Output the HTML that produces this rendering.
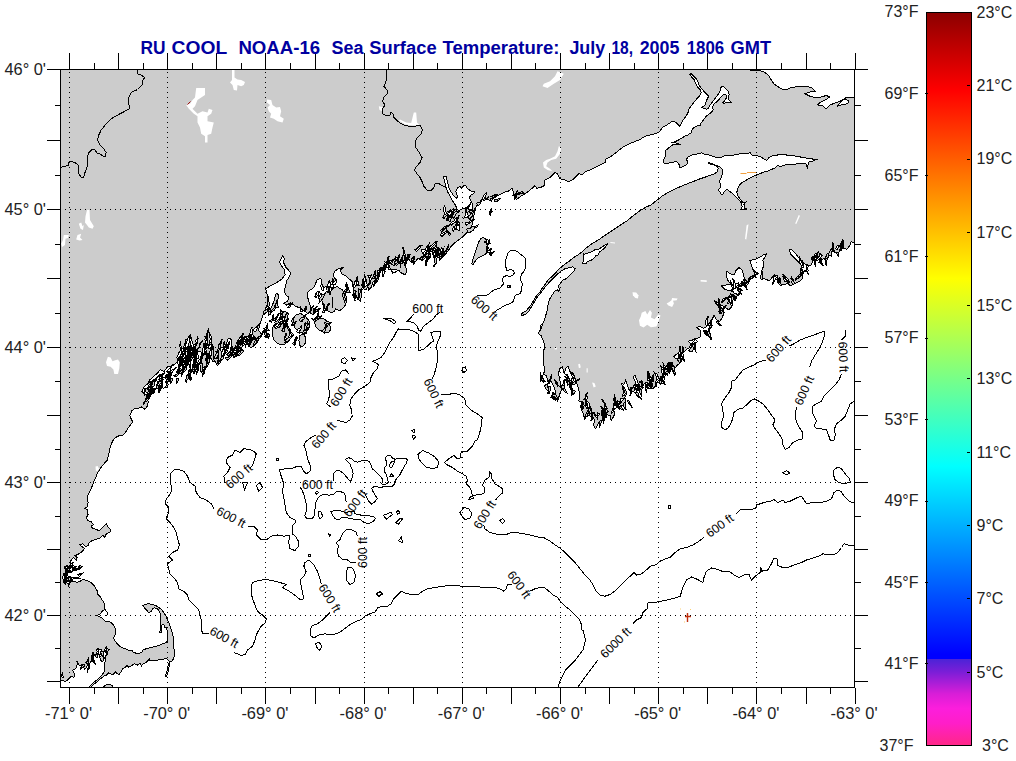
<!DOCTYPE html><html><head><meta charset="utf-8"><title>SST</title><style>
html,body{margin:0;padding:0;background:#fff;}body{width:1016px;height:761px;overflow:hidden;position:relative;font-family:"Liberation Sans",sans-serif;}
svg{position:absolute;left:0;top:0;}text{font-family:"Liberation Sans",sans-serif;}
.ax{font-size:16px;fill:#222;}.ax2{font-size:16.4px;fill:#222;}.cl{font-size:12.3px;fill:#000;}
.ttl{font-size:18px;font-weight:bold;fill:#0000a0;white-space:pre;}
</style></head><body>
<svg width="1016" height="761" viewBox="0 0 1016 761">
<defs><clipPath id="mc"><rect x="60" y="69" width="795" height="619"/></clipPath>
<linearGradient id="cb" x1="0" y1="0" x2="0" y2="1">
<stop offset="0.00%" stop-color="#8c0000"/>
<stop offset="10.64%" stop-color="#ff0000"/>
<stop offset="23.47%" stop-color="#ff8000"/>
<stop offset="36.29%" stop-color="#ffff00"/>
<stop offset="49.11%" stop-color="#80ff80"/>
<stop offset="61.94%" stop-color="#00ffff"/>
<stop offset="74.76%" stop-color="#0080ff"/>
<stop offset="87.59%" stop-color="#0000ff"/>
<stop offset="88.19%" stop-color="#0000ff"/>
<stop offset="88.20%" stop-color="#4b23d7"/>
<stop offset="90.04%" stop-color="#7d1ed7"/>
<stop offset="92.91%" stop-color="#d71ed7"/>
<stop offset="94.95%" stop-color="#fc1edc"/>
<stop offset="97.00%" stop-color="#ff1ec8"/>
<stop offset="100.00%" stop-color="#ff2887"/>
</linearGradient></defs>
<rect x="60" y="69" width="795" height="619" fill="#cccccc"/>
<g clip-path="url(#mc)">
<path d="M90.8,687.5 L93.1,684.9 L95.8,682.7 L98.4,680.7 L101.0,678.3 L103.9,676.1 L106.9,674.8 L108.9,672.8 L110.9,674.1 L113.5,674.1 L115.5,671.8 L116.8,673.9 L119.4,674.1 L121.4,671.5 L122.7,668.9 L125.3,667.5 L127.0,664.9 L128.6,667.3 L130.6,666.2 L132.6,664.9 L134.5,663.6 L137.2,665.2 L139.8,663.3 L141.5,666.0 L143.3,663.6 L145.7,662.6 L147.7,661.0 L149.6,658.4 L149.4,660.7 L152.3,661.0 L156.2,660.3 L160.2,659.7 L164.1,659.0 L166.7,658.6 L168.3,660.3 L170.0,661.6 L169.3,664.9 L168.7,668.9 L167.8,672.8 L166.7,676.1 L165.4,676.1 L166.7,672.1 L167.8,668.2 L168.3,664.3 L169.6,662.0 L172.0,661.0 L173.9,658.4 L174.3,653.1 L173.9,647.8 L173.9,642.6 L173.3,637.3 L172.0,632.1 L170.4,626.8 L168.3,621.5 L166.1,616.3 L163.4,611.7 L160.2,608.4 L156.2,605.8 L152.3,604.2 L148.3,603.8 L145.0,604.5 L142.8,605.8 L144.4,607.7 L147.0,610.4 L148.6,612.6 L149.9,612.3 L151.6,611.0 L152.5,608.7 L154.2,607.7 L156.9,608.4 L159.1,610.8 L160.4,614.3 L160.8,618.3 L160.2,622.9 L160.2,628.1 L159.9,632.7 L161.2,632.1 L161.5,628.1 L162.1,624.8 L163.8,624.4 L164.8,627.5 L166.5,627.1 L167.0,630.1 L167.8,634.0 L168.0,638.0 L167.4,641.3 L165.4,642.8 L162.1,644.1 L157.5,645.9 L152.3,647.2 L147.0,648.5 L143.3,649.8 L141.8,652.0 L139.1,653.4 L135.8,653.1 L133.2,652.4 L132.6,650.7 L129.3,650.5 L126.0,649.1 L122.7,647.8 L119.4,645.9 L116.8,643.2 L114.8,640.6 L113.5,638.0 L114.8,635.4 L115.7,632.1 L115.2,628.1 L113.5,624.8 L110.9,622.2 L107.6,621.5 L105.0,621.0 L103.4,619.2 L100.3,617.0 L97.3,615.6 L100.3,613.7 L102.6,610.8 L104.7,609.7 L104.7,605.8 L103.9,602.5 L101.7,599.2 L99.7,595.9 L97.3,593.9 L97.1,590.0 L96.9,590.6 L94.5,586.0 L90.9,582.3 L87.2,580.5 L82.6,579.6 L79.8,581.4 L77.1,582.3 L73.4,581.4 L71.6,578.6 L67.9,577.7 L65.1,575.9 L66.0,572.2 L64.2,566.7 L67.0,565.8 L69.7,566.7 L71.6,564.9 L70.6,561.2 L73.4,557.5 L76.2,560.3 L77.1,557.5 L75.2,555.7 L78.9,553.8 L82.6,551.1 L84.4,548.3 L81.7,546.5 L79.8,544.6 L82.6,543.7 L85.3,546.5 L88.1,545.5 L89.0,542.8 L91.8,540.9 L96.4,539.1 L100.1,538.2 L102.8,535.4 L104.7,537.3 L106.5,533.6 L109.3,532.7 L111.1,530.8 L109.3,528.1 L107.4,526.2 L106.5,523.5 L103.8,526.2 L101.0,529.0 L99.2,530.8 L96.4,529.5 L92.7,528.4 L90.9,526.2 L93.6,524.4 L90.9,521.6 L88.1,520.7 L86.3,518.0 L88.1,514.3 L87.2,509.7 L84.4,508.2 L87.2,506.9 L88.1,502.3 L87.2,496.8 L89.0,493.1 L90.9,489.4 L92.7,484.8 L94.5,480.2 L96.4,476.6 L97.3,472.9 L99.2,470.1 L101.9,466.4 L104.7,462.8 L107.4,460.0 L106.0,462.4 L108.2,456.9 L109.3,451.4 L110.6,445.9 L112.5,441.3 L115.2,437.6 L118.9,435.8 L122.6,435.2 L125.3,433.0 L127.2,429.3 L129.9,425.6 L132.7,421.9 L130.9,418.3 L129.9,415.5 L131.8,410.9 L134.5,408.7 L138.2,408.2 L141.9,406.9 L144.7,409.1 L147.4,406.3 L148.3,401.7 L146.5,398.1 L148.3,395.3 L144.7,394.4 L141.9,391.6 L143.7,387.0 L147.4,384.2 L150.2,379.7 L153.8,376.0 L157.5,373.2 L160.3,369.5 L164.0,371.4 L167.6,366.8 L172.2,365.9 L175.9,363.1 L178.7,361.3 L176.8,357.6 L178.7,353.0 L181.4,348.4 L185.1,347.5 L186.9,341.0 L188.8,336.4 L189.7,341.0 L187.9,346.6 L186.9,352.1 L187.9,357.6 L189.7,363.1 L191.6,359.4 L194.3,355.8 L198.0,352.1 L200.8,351.1 L201.7,354.8 L199.8,359.4 L200.8,364.9 L203.5,367.7 L206.3,365.9 L207.2,359.4 L209.0,353.9 L210.9,348.4 L212.7,344.7 L213.6,348.4 L211.8,353.9 L212.7,359.4 L215.5,362.2 L217.3,365.9 L220.1,363.1 L221.9,357.6 L223.7,350.2 L226.5,343.8 L228.3,338.3 L231.1,339.2 L232.0,344.7 L230.2,350.2 L232.9,352.1 L235.7,348.4 L238.4,345.6 L242.1,343.8 L244.9,341.0 L247.6,338.3 L249.5,341.0 L248.6,346.6 L251.3,347.5 L255.0,344.7 L256.6,343.0 L262.1,334.7 L258.4,330.1 L260.2,322.8 L263.0,315.4 L265.8,308.1 L268.5,302.5 L267.2,295.2 L265.8,288.7 L270.3,286.0 L275.9,283.2 L281.4,279.5 L285.1,274.9 L284.1,269.4 L281.4,265.8 L279.5,262.1 L281.4,258.4 L282.7,255.6 L284.1,258.4 L283.8,263.0 L286.0,267.6 L288.7,270.3 L290.6,273.1 L289.3,276.8 L286.9,280.5 L285.6,286.0 L284.1,291.5 L286.0,295.2 L288.7,297.0 L287.8,300.7 L284.1,303.4 L286.9,305.3 L290.6,302.5 L295.2,306.2 L300.7,308.1 L304.4,310.8 L308.1,313.6 L310.8,309.9 L309.9,304.4 L308.1,298.9 L307.1,294.2 L308.1,291.5 L310.8,289.7 L313.6,287.8 L315.4,284.1 L317.2,279.5 L320.9,278.6 L321.8,283.2 L323.7,287.8 L327.4,286.0 L329.2,280.5 L331.0,285.1 L333.8,283.2 L335.6,279.5 L332.9,274.9 L334.7,271.3 L338.4,268.5 L343.0,267.6 L340.2,270.3 L342.1,274.0 L345.8,275.9 L348.5,278.6 L352.2,281.4 L353.1,286.9 L354.9,293.3 L357.7,298.9 L360.5,301.6 L361.4,295.2 L362.3,287.8 L363.2,280.5 L366.0,278.6 L366.9,284.1 L368.7,289.7 L371.5,286.9 L373.3,281.4 L376.1,282.3 L377.0,276.8 L377.9,271.3 L380.7,267.6 L383.4,271.3 L385.3,267.6 L388.1,263.0 L389.9,267.6 L392.6,273.1 L396.3,271.3 L400.0,270.3 L388.7,269.3 L387.8,263.8 L390.5,269.3 L394.2,273.0 L397.9,270.2 L401.6,273.0 L405.2,274.8 L407.1,271.1 L405.2,265.6 L403.4,261.0 L408.0,258.3 L410.8,261.9 L414.4,262.9 L418.1,258.3 L421.8,260.1 L423.6,255.5 L420.9,250.0 L424.5,249.1 L428.2,252.8 L431.9,250.9 L433.7,255.5 L437.4,257.4 L441.1,258.3 L443.9,255.5 L447.5,251.8 L451.2,246.3 L454.9,242.6 L458.6,239.9 L462.2,237.1 L465.9,233.4 L469.6,229.8 L472.4,224.2 L473.3,218.7 L474.2,214.1 L475.1,209.5 L476.9,204.9 L479.7,203.1 L481.6,199.4 L484.3,194.8 L486.1,198.5 L489.8,200.3 L493.5,198.5 L497.2,195.8 L500.9,193.9 L504.5,192.1 L508.2,191.2 L511.9,188.4 L513.7,192.1 L514.7,197.6 L516.5,199.4 L520.2,196.7 L524.8,193.9 L528.5,191.2 L532.1,188.4 L534.9,185.6 L536.7,188.4 L540.4,187.5 L545.0,185.6 L543.8,186.2 L545.0,180.0 L550.0,177.5 L555.0,172.5 L557.5,173.8 L560.0,178.8 L565.0,180.0 L568.8,182.0 L573.8,178.8 L578.8,173.8 L582.5,174.5 L586.2,171.2 L590.0,170.0 L595.0,167.5 L600.0,165.0 L605.0,162.5 L606.2,158.8 L611.2,156.2 L616.2,152.5 L622.5,147.5 L627.5,144.5 L633.8,142.0 L640.0,139.5 L645.0,136.2 L652.5,134.5 L658.8,132.5 L662.5,127.5 L667.5,124.5 L672.5,121.2 L676.2,122.5 L678.8,125.5 L679.7,126.4 L681.4,123.2 L683.5,119.4 L686.5,115.5 L688.4,111.7 L689.0,109.2 L691.0,106.0 L694.1,102.1 L697.3,98.3 L699.9,95.7 L701.2,92.5 L700.5,90.0 L698.0,87.4 L695.4,82.9 L694.1,79.7 L691.6,77.2 L689.7,74.0 L691.0,73.3 L693.5,75.9 L696.1,78.4 L698.0,82.3 L699.3,85.5 L701.8,88.7 L704.4,91.9 L706.9,94.4 L708.9,96.3 L707.6,98.3 L706.3,100.8 L705.7,103.4 L705.0,105.3 L702.5,106.6 L701.2,107.2 L703.7,108.5 L706.9,109.2 L708.9,107.9 L709.5,105.3 L711.4,103.4 L713.3,100.8 L715.3,98.3 L717.2,95.7 L719.1,93.2 L720.4,90.6 L721.0,87.4 L722.9,86.1 L724.9,88.0 L726.8,90.0 L728.7,91.9 L729.1,95.1 L728.1,97.0 L728.7,99.5 L731.2,102.8 L728.1,102.4 L725.5,102.1 L724.2,104.0 L722.9,102.8 L724.9,100.2 L726.8,97.6 L726.5,95.1 L724.2,94.4 L722.3,95.7 L720.4,97.6 L719.1,99.5 L717.2,101.5 L715.3,102.8 L713.3,104.7 L712.7,107.2 L713.3,109.8 L711.4,112.3 L708.9,114.3 L706.3,116.2 L704.4,118.7 L702.5,121.3 L700.5,123.9 L700.5,125.8 L698.6,125.1 L696.1,126.4 L693.5,127.7 L691.6,130.3 L691.0,132.8 L688.4,134.7 L685.2,136.0 L682.0,137.9 L678.8,139.9 L675.6,141.5 L673.0,142.4 L677.5,143.3 L679.4,144.3 L675.6,144.6 L672.4,145.0 L669.2,147.5 L666.0,150.1 L665.4,153.3 L665.1,156.5 L663.3,161.3 L664.2,163.0 L667.7,163.4 L673.0,162.2 L676.6,161.3 L679.2,164.8 L680.1,168.0 L682.8,166.6 L686.3,164.8 L688.1,162.2 L686.3,159.5 L688.1,156.8 L691.6,155.1 L696.1,154.2 L701.4,152.8 L704.9,154.2 L709.4,155.1 L713.8,156.8 L718.2,157.7 L722.6,156.8 L725.3,155.1 L728.0,155.9 L732.4,155.6 L736.8,154.2 L742.1,153.8 L746.6,153.8 L750.1,152.8 L751.9,155.1 L756.3,155.6 L760.7,156.8 L764.3,159.1 L766.9,160.4 L768.7,157.7 L772.2,155.9 L776.7,155.1 L782.0,154.5 L787.3,155.1 L791.7,155.6 L797.1,156.3 L802.4,157.4 L807.7,158.2 L813.0,159.1 L817.4,159.1 L813.0,160.9 L808.6,162.2 L807.3,167.5 L805.9,163.9 L802.4,163.0 L797.1,163.9 L791.7,164.4 L787.3,164.8 L783.8,165.2 L781.1,166.6 L777.6,165.7 L775.8,167.5 L772.2,169.2 L767.8,171.0 L763.4,172.2 L759.0,174.0 L754.5,175.8 L750.1,178.1 L745.7,180.4 L742.1,182.5 L739.5,185.2 L737.7,188.7 L736.8,192.3 L737.7,195.8 L740.4,199.4 L743.0,202.9 L745.7,202.0 L743.9,204.7 L744.8,208.2 L746.6,209.1 L741.2,209.1 L742.1,206.4 L741.2,202.9 L738.6,199.4 L735.0,195.8 L732.4,193.2 L729.7,191.4 L728.0,190.0 L726.2,189.6 L724.4,191.4 L722.6,194.9 L720.9,194.0 L719.5,191.4 L718.2,189.6 L720.0,187.8 L720.9,184.3 L719.1,181.6 L720.9,178.1 L722.3,174.6 L723.0,171.0 L721.8,168.3 L719.1,166.6 L715.6,165.2 L711.1,164.4 L707.6,163.0 L709.4,162.7 L712.9,163.9 L716.4,165.7 L718.2,168.3 L717.3,171.5 L714.7,173.7 L710.2,175.4 L704.9,177.2 L699.6,179.0 L694.3,181.1 L689.0,183.1 L683.7,185.2 L678.4,187.5 L673.0,190.0 L667.7,192.8 L662.4,195.8 L658.0,199.4 L653.5,202.9 L650.0,205.6 L647.2,206.4 L639.9,210.7 L632.5,216.2 L627.0,220.8 L621.5,224.4 L616.0,228.1 L610.4,231.8 L604.9,235.5 L599.4,239.2 L593.9,242.5 L589.3,245.6 L585.6,248.4 L581.9,252.1 L578.2,254.8 L573.6,257.6 L569.0,261.3 L564.4,264.6 L559.8,268.3 L555.2,273.2 L551.5,276.9 L548.2,280.0 L545.1,284.3 L542.3,287.9 L539.6,292.6 L536.8,295.3 L534.0,299.9 L531.3,304.5 L528.5,308.2 L525.8,311.0 L522.1,312.8 L521.7,315.6 L524.9,314.6 L527.6,312.8 L529.5,310.0 L532.2,305.4 L535.0,300.8 L537.7,296.2 L539.6,294.4 L542.3,290.7 L546.0,286.1 L549.7,281.9 L553.4,278.2 L557.1,274.5 L560.7,271.4 L564.4,269.0 L569.0,267.7 L572.7,266.8 L575.1,268.6 L573.6,271.4 L570.9,274.1 L568.1,276.9 L565.3,279.3 L562.6,280.0 L560.7,283.0 L558.0,286.1 L559.8,288.9 L558.9,291.6 L557.1,289.8 L555.2,290.7 L552.5,294.4 L549.7,299.0 L548.2,303.6 L547.5,309.1 L546.0,314.6 L544.2,320.2 L542.0,325.7 L540.1,331.2 L541.2,323.7 L540.2,329.2 L538.4,333.8 L541.2,335.6 L543.0,340.2 L544.9,345.8 L543.6,351.3 L543.9,356.8 L543.0,363.2 L544.9,368.8 L543.6,374.3 L546.7,376.1 L547.6,381.7 L550.4,379.8 L552.2,383.5 L554.0,387.2 L555.9,392.7 L554.0,396.4 L557.7,401.0 L559.6,394.5 L561.4,389.9 L560.5,384.4 L559.6,378.9 L558.6,373.4 L559.6,368.8 L562.3,366.9 L564.2,373.4 L566.0,367.9 L567.9,366.0 L569.7,371.5 L573.4,373.4 L575.2,378.9 L577.1,384.4 L578.9,389.9 L579.8,395.5 L578.9,401.0 L581.7,401.9 L582.6,406.5 L581.7,410.2 L583.5,413.9 L584.4,419.4 L586.3,416.6 L589.0,415.7 L592.7,416.6 L594.5,420.3 L593.6,424.9 L595.5,428.6 L597.3,425.8 L599.1,422.1 L602.8,419.4 L603.8,414.8 L602.8,410.2 L601.0,406.5 L601.9,406.5 L604.7,412.0 L607.4,414.8 L610.2,415.7 L611.1,420.3 L613.0,417.6 L614.8,413.9 L613.0,408.4 L613.9,403.8 L616.6,405.6 L619.4,409.3 L621.2,406.5 L624.0,403.8 L625.8,401.0 L624.9,397.3 L626.8,393.6 L625.8,389.9 L623.1,386.3 L621.2,383.5 L624.0,384.4 L625.8,379.8 L626.8,383.5 L628.6,389.0 L631.4,391.8 L634.1,390.9 L636.0,386.3 L635.0,380.7 L633.2,377.1 L635.0,375.2 L636.9,379.8 L638.7,384.4 L640.6,388.1 L642.4,384.4 L645.2,383.5 L646.1,389.9 L647.9,387.2 L649.8,381.7 L651.6,385.3 L653.4,388.1 L656.2,386.3 L657.1,381.7 L656.2,376.1 L654.4,372.5 L657.1,374.3 L659.0,378.9 L660.8,380.7 L662.6,377.1 L661.7,370.6 L660.8,366.0 L663.6,368.8 L665.4,372.5 L667.2,375.2 L669.1,370.6 L667.2,366.0 L670.0,366.9 L671.9,369.7 L674.6,368.8 L677.4,365.1 L680.1,363.2 L682.0,359.6 L679.2,357.7 L675.5,358.6 L673.7,356.8 L676.5,354.1 L680.1,353.1 L683.8,352.2 L686.6,349.4 L689.3,347.6 L691.2,343.9 L688.4,341.2 L692.1,340.2 L695.8,338.4 L700.0,337.5 L700.2,330.2 L696.6,327.4 L700.2,326.5 L703.9,328.3 L706.7,326.5 L709.5,322.8 L712.2,319.1 L714.0,315.4 L716.8,320.0 L719.6,321.9 L722.3,317.3 L724.2,312.7 L721.4,309.9 L718.6,306.2 L715.9,303.5 L714.0,300.7 L717.7,302.6 L721.4,305.3 L725.1,307.1 L728.8,309.9 L731.5,307.1 L730.6,302.6 L727.9,299.8 L725.1,297.9 L728.8,297.0 L732.5,298.9 L735.2,295.2 L733.4,291.5 L729.7,290.6 L725.1,289.7 L721.4,286.0 L726.0,285.1 L730.6,284.1 L727.9,280.5 L726.0,275.9 L726.9,271.3 L730.6,274.0 L734.3,274.9 L736.1,270.3 L738.9,267.6 L741.7,269.4 L743.5,274.0 L744.4,278.6 L742.6,282.3 L739.8,284.1 L738.9,286.9 L741.7,286.0 L745.3,283.2 L749.0,280.5 L750.9,276.8 L753.6,275.9 L755.5,277.7 L754.5,273.1 L752.7,269.4 L750.9,263.9 L749.9,260.2 L753.6,259.9 L757.3,258.4 L761.0,256.5 L763.8,254.7 L766.5,253.8 L764.7,257.5 L762.8,260.2 L763.8,265.7 L761.9,270.3 L761.0,274.9 L762.8,277.7 L765.6,279.5 L769.3,280.5 L772.0,277.7 L774.8,274.9 L777.5,275.9 L778.5,280.5 L780.3,284.1 L784.0,285.1 L787.7,283.2 L790.4,286.0 L794.1,284.1 L797.8,282.3 L800.6,280.5 L803.0,277.7 L802.4,273.1 L800.6,269.4 L801.5,265.7 L798.7,262.1 L796.0,259.3 L793.2,256.5 L790.4,253.8 L789.5,249.2 L792.3,250.1 L795.0,252.9 L797.8,256.5 L800.6,260.2 L803.3,263.0 L807.0,264.8 L810.7,265.7 L812.5,262.1 L811.6,257.5 L814.4,255.6 L817.1,259.3 L821.7,259.3 L826.3,258.4 L829.1,255.6 L831.9,252.9 L830.0,249.2 L832.8,250.1 L835.5,252.9 L839.2,251.9 L842.0,248.2 L842.9,239.1 L843.8,248.2 L846.6,249.2 L849.3,246.4 L851.2,241.8 L853.9,242.7 L854.5,244.6 L854.5,687.5 L90.8,687.5Z" fill="#fff" stroke="#000" stroke-width="1" shape-rendering="crispEdges"/>
<path d="M750.0,70.0 L760.0,70.5 L765.0,72.5 L768.8,75.5 L771.2,80.0 L773.8,83.8 L777.5,86.2 L781.2,88.8 L786.2,90.0 L790.0,88.0 L795.0,87.0 L801.2,86.2 L806.2,86.2 L811.2,87.5 L815.0,91.2 L810.0,92.0 L805.0,93.8 L810.0,96.2 L815.0,97.5 L821.2,97.0 L826.2,95.5 L830.0,97.0 L825.0,100.0 L820.0,102.5 L817.5,105.0 L822.5,105.5 L826.2,108.8 L830.0,105.0 L835.0,103.0 L840.0,101.2 L845.0,98.8 L848.8,101.2 L847.5,103.8 L842.5,104.5 L837.5,106.2 L842.5,100.0 L846.2,97.5 L854.5,98.0 L854.5,69.5Z" fill="#fff" stroke="#000" stroke-width="1" shape-rendering="crispEdges"/>
<path d="M60.5,680.7 L62.9,680.7 L65.5,681.4 L67.5,680.0 L69.5,678.1 L71.4,676.1 L73.4,677.4 L74.7,676.1 L74.1,673.5 L72.7,670.2 L74.7,669.5 L76.7,667.5 L77.3,663.6 L76.7,661.0 L78.0,663.0 L79.3,665.6 L81.3,664.9 L83.3,666.2 L84.6,668.9 L86.5,667.5 L87.2,664.9 L89.2,663.6 L91.2,661.6 L92.5,659.7 L93.8,657.7 L92.5,655.1 L93.8,653.8 L95.1,655.7 L96.4,654.4 L97.1,651.8 L96.8,649.8 L98.1,648.5 L99.0,650.5 L100.3,651.8 L101.7,653.8 L101.3,655.7 L99.7,657.0 L100.3,659.7 L101.7,661.6 L103.4,661.0 L103.6,658.4 L103.0,655.7 L103.6,653.1 L104.3,650.5 L105.6,647.8 L106.9,646.8 L106.3,649.1 L105.6,651.8 L106.3,654.4 L105.6,657.0 L106.0,659.7 L105.0,662.3 L104.3,665.6 L104.7,668.9 L103.9,672.1 L102.3,674.8 L100.3,676.8 L98.4,678.7 L95.8,680.7 L93.1,682.7 L90.5,685.3 L88.5,687.5 L60.5,687.5Z" fill="#fff" stroke="#000" stroke-width="1" shape-rendering="crispEdges"/>
<path d="M583.2,253.5 L583.8,258.5 L582.8,263.5 L585.6,264.0 L587.4,261.6 L591.1,260.3 L593.9,258.5 L595.7,255.7 L598.5,254.8 L599.4,251.7 L602.1,250.2 L604.9,247.5 L607.7,243.8 L604.9,245.1 L601.2,247.5 L598.5,249.3 L595.7,249.3 L593.0,251.1 L590.2,252.4 L586.5,253.5 L583.8,254.3Z" fill="#fff" stroke="#000" stroke-width="1" shape-rendering="crispEdges"/>
<path d="M102.3,687.5 L105.6,685.3 L108.2,684.0 L110.9,684.9 L112.6,686.0 L112.8,687.5Z" fill="#ccc" stroke="#000" stroke-width="1" shape-rendering="crispEdges"/>
<path d="M196.2,88.0 L205.0,88.0 L205.0,95.0 L201.2,97.5 L197.5,100.0 L195.0,106.2 L192.5,108.8 L197.5,113.8 L202.5,111.2 L207.5,112.5 L208.8,108.8 L212.5,110.0 L211.2,113.8 L207.5,116.2 L207.5,121.2 L213.8,122.5 L212.5,127.5 L211.2,133.8 L207.5,135.0 L207.5,142.5 L205.0,142.5 L205.0,136.2 L201.2,133.8 L200.0,127.5 L197.5,122.5 L197.5,116.2 L193.8,113.8 L188.8,108.8 L186.2,105.0 L190.0,103.8 L192.5,100.0 L195.0,97.5Z" fill="#fff"/>
<path d="M232.0,70.0 L234.5,70.0 L234.5,77.5 L237.5,79.5 L241.2,80.0 L245.0,82.0 L243.8,85.0 L241.2,86.2 L237.5,85.0 L237.0,90.5 L233.8,90.0 L232.5,85.0 L230.0,82.5 L232.0,80.0Z" fill="#fff"/>
<path d="M267.0,99.5 L271.2,100.0 L272.5,105.0 L276.2,107.5 L280.0,107.0 L281.2,111.2 L280.0,116.2 L283.8,118.8 L282.5,122.5 L277.5,121.2 L273.8,118.8 L270.0,117.5 L271.2,113.8 L268.8,111.2 L267.5,107.5 L270.0,105.0 L267.0,102.5Z" fill="#fff"/>
<path d="M87.0,210.0 L89.5,210.0 L90.0,220.0 L93.8,226.2 L92.5,228.8 L88.8,227.5 L87.0,225.0 L85.0,222.5 L85.5,216.2Z" fill="#fff"/>
<path d="M78.8,223.8 L81.2,222.5 L82.5,226.2 L83.8,225.0 L83.0,230.0 L80.5,228.8Z" fill="#fff"/>
<path d="M77.5,235.0 L81.2,233.8 L80.0,237.5 L82.5,240.0 L79.5,240.5 L76.2,239.5Z" fill="#fff"/>
<path d="M63.8,235.0 L68.8,235.0 L68.0,238.0 L65.5,238.8 L65.0,245.0 L62.0,247.0 L61.2,243.8 L63.0,240.0Z" fill="#fff"/>
<path d="M413.8,112.5 L416.2,112.5 L417.0,122.5 L420.0,125.5 L412.5,125.5 L405.0,124.5 L398.8,120.5 L400.0,119.5 L406.2,122.5 L411.2,123.0Z" fill="#fff"/>
<path d="M378.8,106.2 L382.5,107.0 L382.5,111.2 L379.5,110.0Z" fill="#fff"/>
<path d="M557.5,71.2 L563.8,73.8 L560.0,80.0 L553.8,83.8 L547.5,88.0 L542.5,86.2 L543.8,83.8 L550.0,81.2 L555.0,76.2Z" fill="#fff"/>
<path d="M558.8,146.2 L561.2,147.5 L560.0,153.8 L556.2,158.8 L551.2,160.0 L547.5,162.5 L546.2,166.2 L550.0,168.8 L552.5,171.2 L547.5,170.0 L543.8,167.5 L543.0,162.5 L546.2,160.0 L550.0,158.8 L555.0,156.2 L557.5,151.2Z" fill="#fff"/>
<path d="M632.5,292.2 L636.2,292.6 L638.4,295.3 L638.0,298.4 L635.3,298.1 L632.9,295.3Z" fill="#fff"/>
<path d="M672.1,298.1 L677.6,298.4 L676.7,300.3 L673.0,300.8 L673.9,303.6 L672.1,306.9 L668.4,305.4 L666.6,303.6 L669.3,302.1 L671.5,300.3Z" fill="#fff"/>
<path d="M641.7,312.8 L645.4,311.0 L647.2,314.6 L650.0,310.0 L651.9,312.8 L650.9,317.4 L654.6,319.2 L658.3,314.6 L660.5,315.6 L658.3,322.0 L656.5,326.6 L650.9,327.2 L647.2,324.8 L643.6,327.5 L639.9,325.7 L639.0,320.2 L640.8,316.5Z" fill="#fff"/>
<path d="M610.4,242.1 L615.0,242.5 L615.0,243.4 L610.4,243.0Z" fill="#fff"/>
<path d="M745.0,239.1 L746.6,225.2 L748.5,224.3 L746.3,239.6Z" fill="#fff"/>
<path d="M795.2,223.4 L798.7,215.1 L800.0,215.7 L796.3,224.0Z" fill="#fff"/>
<path d="M700.6,279.9 L706.7,280.3 L706.7,281.9 L700.6,281.6Z" fill="#fff"/>
<path d="M554.6,347.6 L556.8,347.6 L556.8,349.4 L554.6,349.4Z" fill="#fff"/>
<path d="M578.2,364.2 L580.0,363.8 L580.7,367.5 L578.9,368.2Z" fill="#fff"/>
<path d="M586.6,368.2 L587.7,368.2 L587.7,372.5 L586.6,372.5Z" fill="#fff"/>
<path d="M592.1,382.6 L594.4,382.9 L595.8,386.6 L593.6,387.4Z" fill="#fff"/>
<path d="M107.9,356.7 L110.6,357.6 L112.5,361.3 L115.2,360.3 L118.0,359.4 L119.8,362.2 L119.3,368.6 L118.0,374.1 L114.3,374.1 L113.4,369.5 L110.6,366.8 L107.0,365.9 L106.0,362.2Z" fill="#fff"/>
<path d="M95.5,466.4 L97.7,465.9 L99.2,469.2 L98.2,471.0 L95.8,470.7Z" fill="#fff"/>
<path d="M321.8,300.7 L323.7,295.2 L327.4,290.6 L331.9,287.4 L337.5,286.9 L342.1,289.7 L345.2,293.3 L346.7,298.9 L345.8,304.4 L343.0,308.1 L339.3,310.8 L335.6,309.0 L333.8,311.7 L331.0,312.6 L327.4,310.8 L323.7,307.1Z" fill="#ccc" stroke="#000" stroke-width="1" shape-rendering="crispEdges"/>
<path d="M471.9,263.8 L472.8,259.4 L474.8,253.8 L476.9,247.5 L478.8,241.9 L480.6,238.8 L483.1,237.2 L485.6,238.8 L486.9,242.5 L487.2,246.2 L487.5,250.6 L486.2,253.1 L484.4,255.0 L481.9,256.2 L478.8,257.5 L476.2,260.0 L474.4,262.5 L472.8,265.0Z" fill="#ccc" stroke="#000" stroke-width="1" shape-rendering="crispEdges"/>
<path d="M137.0,70.0 L137.5,73.8 L141.2,75.0 L144.5,77.5 L142.5,81.2 L142.0,85.0 L137.5,89.5 L131.2,92.5 L128.8,97.5 L128.8,103.8 L129.5,108.8 L125.0,111.2 L120.0,113.8 L115.5,116.2 L111.2,118.8 L106.2,123.8 L101.2,130.0 L98.8,135.0 L97.5,140.0 L100.0,145.0 L103.8,148.8 L106.2,152.5 L105.5,156.2 L103.0,156.2 L100.0,153.8 L97.5,153.8 L95.0,150.0 L92.0,149.5 L88.8,152.5 L87.5,156.2 L88.0,160.0 L87.0,167.5 L85.0,172.5 L83.8,177.0 L81.2,177.0 L78.8,173.8 L78.2,165.0 L75.0,162.5 L70.0,161.2 L68.0,163.0 L68.8,165.0 L65.0,166.2 L60.5,167.5" fill="none" stroke="#000" stroke-width="1" shape-rendering="crispEdges"/>
<path d="M386.2,70.0 L387.0,78.8 L385.0,83.8 L383.8,86.2 L387.0,90.0 L387.0,93.8 L383.8,97.5 L382.5,101.2 L385.0,105.0 L382.5,108.8 L382.5,113.8 L386.2,115.5 L390.0,115.0 L391.2,112.0 L393.0,113.8 L393.8,117.5 L397.5,121.2 L402.5,124.5 L408.8,126.2 L415.0,126.2 L420.0,125.5 L422.5,130.0 L421.2,133.8 L417.5,137.5 L415.0,141.2 L415.0,146.2 L417.5,150.0 L420.0,153.8 L422.0,157.5 L420.0,162.5 L416.2,167.0 L414.5,170.0 L417.0,173.8 L420.0,177.5 L422.5,182.5 L423.8,186.2 L427.5,190.5 L431.2,190.5 L433.8,187.5 L435.0,183.8 L438.0,183.0 L441.2,185.0 L443.8,186.2 L446.2,187.5 L448.8,191.2 L451.2,196.2 L453.8,201.2 L456.2,207.5 L457.5,212.5" fill="none" stroke="#000" stroke-width="1" shape-rendering="crispEdges"/>
<path d="M105.0,609.7 L106.9,611.7 L107.8,614.3 L106.0,615.6" fill="none" stroke="#000" stroke-width="1" shape-rendering="crispEdges"/>
<path d="M332.9,297.4 L332.9,308.4" fill="none" stroke="#000" stroke-width="1" shape-rendering="crispEdges"/>
<path d="M458.1,187.5 L459.9,186.6 L461.8,188.4 L463.6,185.6 L465.5,185.2 L466.8,187.9 L469.1,189.8 L471.9,191.6 L475.1,192.1 L472.8,194.4 L470.5,195.3 L469.6,197.6 L470.5,200.3 L471.9,202.2 L472.8,206.8 L472.4,209.5 L470.1,210.5 L468.2,208.6 L466.4,207.7 L464.5,208.2 L461.8,209.1 L459.0,210.5 L457.2,209.5 L456.3,207.2 L455.3,204.9 L453.5,202.2 L451.7,199.4 L449.8,195.8 L448.0,192.5 L446.6,189.3 L445.7,186.1 L444.8,181.9 L443.9,178.3 L443.4,176.4 L446.1,176.4 L447.1,180.1 L448.0,183.8 L448.9,187.5 L450.3,190.7 L452.1,193.4 L454.4,196.7 L456.3,198.5 L457.6,196.7 L456.7,193.9 L455.8,191.6 L456.7,189.8Z" fill="#fff" stroke="#000" stroke-width="1" shape-rendering="crispEdges"/>
<path d="M276.8,293.3 L278.6,295.2 L277.7,300.7 L274.9,306.2 L272.2,311.7 L270.3,313.6 L269.8,310.8 L272.2,305.3 L274.6,299.8 L275.3,295.2Z M273.1,326.4 L276.8,322.8 L281.4,321.8 L286.0,323.7 L289.3,328.3 L289.7,333.8 L288.2,339.3 L285.1,343.9 L281.4,344.8 L276.8,343.0 L273.5,339.3 L272.2,333.8Z M293.3,319.1 L296.1,314.5 L300.7,313.6 L305.3,316.3 L309.0,320.9 L309.9,326.4 L307.1,331.0 L303.4,332.9 L298.9,331.9 L295.2,328.3 L293.0,323.7Z M299.8,335.6 L303.4,334.2 L305.8,337.5 L305.3,343.0 L302.5,346.7 L299.8,345.8 L298.9,340.2Z M314.5,320.9 L319.1,318.2 L324.6,319.1 L329.2,323.7 L331.0,329.2 L328.3,332.9 L323.7,331.9 L319.1,330.1 L315.4,326.4Z M281.4,312.6 L285.1,311.4 L288.2,313.6 L287.4,319.1 L284.1,321.3 L281.4,318.2Z" fill="#ccc" stroke="#000" stroke-width="1" shape-rendering="crispEdges"/>
<path d="M152.9,381.5 L152.5,384.5 L152.3,387.6 L151.9,390.5 L152.8,387.9 L153.6,385.3 L154.5,382.8Z M168.4,373.3 L170.1,371.5 L170.8,368.8 L171.7,366.5 L172.8,364.1 L171.2,365.9 L170.1,368.0 L168.5,369.7 L166.8,371.4Z M152.5,380.7 L153.9,382.4 L153.7,384.1 L154.3,385.9 L154.4,384.2 L154.9,382.5 L155.0,380.9Z M155.7,381.4 L156.6,378.9 L158.1,376.6 L160.3,375.3 L157.6,376.1 L155.8,378.0 L154.6,380.3Z M168.6,372.0 L169.5,374.5 L168.2,376.6 L168.6,379.2 L169.4,381.7 L169.3,379.3 L169.9,376.9 L171.8,375.0 L171.9,372.6Z M159.9,375.1 L160.0,376.8 L159.4,378.1 L159.5,379.8 L160.4,378.6 L161.8,377.7 L162.3,376.3Z M144.6,388.7 L144.1,390.9 L144.0,393.2 L144.3,395.5 L144.5,393.3 L145.1,391.0 L146.2,389.0Z M150.0,383.7 L151.8,382.9 L153.4,381.8 L154.2,379.9 L152.5,381.0 L150.7,381.9 L148.8,382.6Z M160.0,377.1 L162.2,375.4 L164.3,373.7 L165.0,370.9 L163.8,373.2 L161.3,374.5 L158.9,376.0Z M171.5,373.3 L173.0,371.0 L174.9,369.2 L176.8,367.2 L174.5,368.8 L171.9,369.9 L169.8,371.7Z M181.2,358.3 L181.4,360.5 L180.7,362.7 L179.7,364.8 L179.3,367.1 L178.8,369.4 L177.3,371.2 L176.1,373.0 L178.0,371.4 L179.3,369.5 L179.9,367.2 L180.7,365.0 L181.7,362.9 L182.9,360.9 L182.3,358.6Z M181.6,365.5 L181.2,363.4 L181.1,361.3 L180.7,359.2 L182.2,357.7 L183.4,356.0 L184.6,354.4 L184.2,352.2 L183.7,354.1 L182.4,355.7 L181.1,357.4 L179.8,358.9 L179.7,360.9 L179.6,362.9 L179.2,364.8Z M192.9,347.0 L193.6,348.8 L194.4,350.8 L196.0,352.4 L195.3,354.4 L194.9,356.4 L194.3,358.3 L195.2,360.3 L195.0,358.2 L195.7,356.3 L196.6,354.3 L196.9,352.3 L196.2,350.6 L195.8,348.6 L194.6,346.8Z M215.9,351.8 L216.8,354.1 L217.6,356.6 L218.1,359.0 L217.8,361.5 L218.4,363.9 L218.6,361.5 L218.8,359.0 L218.4,356.6 L218.5,354.2 L217.8,351.9Z M182.4,356.2 L182.6,354.2 L182.4,352.1 L181.6,350.0 L181.3,347.9 L180.9,345.8 L180.8,343.7 L181.0,341.6 L180.1,343.7 L179.7,345.8 L180.4,347.9 L180.8,350.0 L181.4,352.1 L181.4,354.3 L179.9,356.2Z M194.8,358.5 L193.4,360.5 L193.6,362.8 L192.8,364.9 L193.4,367.1 L193.4,364.9 L194.5,362.8 L195.1,360.6 L196.1,358.6Z M195.1,357.4 L194.7,355.3 L195.8,353.8 L197.0,352.1 L197.5,350.1 L198.5,348.4 L199.9,347.0 L200.0,345.0 L200.7,343.2 L202.1,341.7 L202.7,339.8 L201.4,341.5 L199.9,342.9 L199.1,344.7 L199.3,346.8 L197.7,348.1 L196.2,349.6 L195.6,351.5 L195.1,353.5 L193.4,354.9 L193.5,356.8Z M198.5,358.4 L198.4,356.1 L197.5,354.0 L197.0,351.8 L196.0,349.7 L195.3,347.5 L194.8,349.8 L195.9,351.9 L195.2,354.2 L196.4,356.3 L196.0,358.6Z M190.8,352.3 L189.8,354.0 L188.9,355.7 L189.0,357.8 L188.2,359.5 L188.0,361.5 L188.1,363.6 L189.0,361.7 L188.9,359.6 L190.5,358.1 L190.3,356.0 L191.6,354.3 L193.1,352.8Z M194.1,352.9 L194.0,350.6 L195.0,348.5 L195.9,346.5 L196.3,344.2 L197.5,342.4 L195.8,344.1 L195.2,346.3 L193.8,348.3 L193.0,350.4 L192.7,352.6Z M208.1,347.6 L208.2,345.5 L207.9,343.6 L207.6,341.6 L207.1,339.7 L205.9,337.7 L204.8,335.8 L205.1,337.7 L205.0,339.7 L205.9,341.6 L204.9,343.6 L205.8,345.5 L205.8,347.6Z M182.1,363.4 L184.0,362.1 L183.1,359.8 L184.4,358.1 L185.3,356.3 L185.4,354.2 L185.5,352.2 L185.5,350.1 L186.9,348.7 L187.9,347.1 L186.0,348.4 L184.6,349.8 L184.1,351.7 L184.2,353.8 L183.5,355.7 L182.4,357.4 L181.5,359.2 L180.5,360.9 L179.6,362.6Z M204.4,343.7 L204.5,345.7 L204.9,347.8 L204.2,349.7 L205.1,351.7 L205.5,353.7 L206.8,355.5 L206.4,357.4 L205.6,359.4 L206.2,361.4 L206.0,363.3 L207.2,361.3 L206.4,359.3 L207.0,357.4 L208.0,355.4 L207.0,353.6 L206.2,351.6 L205.9,349.6 L206.6,347.6 L206.0,345.6 L206.8,343.5Z M191.1,353.0 L190.3,355.0 L189.8,356.9 L189.4,359.0 L189.7,361.1 L188.6,363.0 L189.4,365.1 L189.6,367.2 L190.3,369.2 L190.5,371.3 L189.9,373.2 L191.4,371.4 L191.3,369.3 L190.5,367.3 L190.1,365.2 L190.0,363.2 L190.6,361.2 L190.6,359.1 L191.1,357.1 L192.2,355.2 L193.1,353.2Z M185.3,351.4 L185.9,353.5 L185.8,355.8 L185.9,358.0 L185.6,360.3 L185.0,362.5 L185.2,364.7 L184.8,367.0 L185.9,369.1 L185.5,366.9 L186.0,364.7 L186.1,362.4 L186.8,360.2 L187.0,358.0 L188.0,355.7 L188.2,353.4 L187.3,351.3Z M180.9,358.2 L182.5,356.7 L182.3,354.4 L184.1,353.1 L184.8,351.1 L184.9,348.9 L185.0,346.9 L185.1,344.7 L186.1,342.8 L185.8,340.7 L186.6,338.8 L185.2,340.5 L185.3,342.6 L184.3,344.4 L183.8,346.4 L183.9,348.6 L183.6,350.6 L182.4,352.4 L181.1,354.0 L180.4,355.9 L179.1,357.5Z M189.8,353.4 L189.9,351.1 L190.9,349.0 L190.5,346.6 L190.7,344.3 L190.0,346.5 L189.9,348.7 L189.0,350.8 L188.3,353.0Z M195.6,350.0 L194.3,348.2 L193.5,346.1 L193.0,344.2 L192.4,342.1 L191.5,340.2 L191.4,338.1 L190.8,336.1 L190.8,334.2 L189.3,336.3 L190.4,338.2 L189.3,340.4 L190.5,342.3 L190.2,344.4 L191.5,346.3 L191.7,348.4 L192.5,350.3Z M193.0,347.2 L191.8,348.8 L190.1,350.4 L190.2,352.6 L188.8,354.2 L188.7,356.3 L188.1,358.2 L188.0,360.2 L187.1,362.1 L187.5,364.2 L186.7,366.0 L188.2,364.4 L188.2,362.5 L189.5,360.8 L189.2,358.7 L190.1,356.8 L190.3,354.7 L191.6,353.1 L192.6,351.3 L193.5,349.5 L194.8,347.8Z M207.4,345.1 L207.6,343.0 L207.7,340.9 L208.0,338.8 L207.1,336.7 L207.6,334.6 L208.2,332.7 L208.5,330.6 L208.5,328.5 L207.9,330.5 L207.5,332.6 L206.3,334.4 L206.1,336.5 L206.4,338.5 L206.2,340.6 L205.7,342.6 L205.4,344.7Z M183.0,362.2 L182.5,364.4 L182.6,366.5 L182.6,368.7 L182.9,370.9 L181.8,372.9 L181.3,375.0 L181.3,377.1 L182.1,375.0 L182.9,372.9 L183.5,370.8 L183.5,368.6 L183.4,366.5 L184.1,364.3 L184.0,362.1Z M201.5,352.5 L201.7,354.9 L201.4,357.1 L200.2,358.9 L198.5,360.6 L197.9,362.7 L197.5,364.9 L197.3,367.1 L197.6,369.3 L196.7,371.3 L196.6,373.5 L197.8,371.6 L198.6,369.6 L198.2,367.4 L198.4,365.2 L199.6,363.2 L200.8,361.3 L201.6,359.4 L202.7,357.4 L203.3,355.3 L204.2,353.3Z M180.0,358.1 L180.4,360.1 L180.9,362.1 L180.4,364.1 L180.1,366.1 L181.2,364.3 L181.8,362.3 L182.1,360.4 L181.8,358.4Z M205.1,354.3 L204.4,351.8 L205.3,349.6 L204.7,347.1 L204.0,344.6 L205.3,342.8 L203.2,344.3 L203.1,346.5 L203.0,348.8 L202.6,351.1 L202.4,353.3Z M188.8,364.0 L189.0,361.8 L188.2,359.7 L189.1,357.8 L188.1,355.7 L188.8,353.7 L189.5,351.6 L189.1,349.5 L189.0,347.3 L188.5,345.1 L188.2,347.2 L188.6,349.4 L188.8,351.5 L187.8,353.5 L186.9,355.5 L187.4,357.5 L186.5,359.5 L187.0,361.6 L187.4,363.8Z M211.8,348.5 L211.9,346.5 L211.7,344.3 L211.9,342.3 L211.5,340.1 L211.7,338.0 L211.1,336.0 L209.8,334.0 L208.8,332.0 L209.2,334.0 L209.5,336.0 L210.1,338.0 L210.0,340.1 L209.7,342.2 L209.1,344.3 L209.0,346.4 L208.3,348.5Z M193.1,355.3 L193.1,353.1 L193.6,351.0 L193.7,348.6 L194.4,346.5 L195.9,344.8 L197.2,343.1 L197.2,340.9 L198.2,339.0 L197.5,336.6 L197.3,338.7 L195.7,340.4 L196.3,342.7 L194.8,344.4 L193.3,346.1 L192.3,348.1 L191.4,350.1 L190.6,352.2 L191.0,354.5Z M202.0,352.0 L201.0,353.8 L201.3,355.9 L200.2,357.6 L200.5,359.7 L200.8,361.7 L200.7,363.8 L200.1,365.7 L200.1,367.8 L200.7,369.8 L200.6,371.8 L201.5,369.8 L201.1,367.8 L200.8,365.8 L201.7,363.9 L202.0,361.8 L201.6,359.8 L201.8,357.8 L202.6,356.0 L202.2,354.0 L203.0,352.1Z M185.8,361.6 L187.2,359.5 L187.2,357.0 L187.9,354.5 L187.4,351.9 L187.3,354.4 L185.6,356.5 L185.8,359.1 L184.1,361.1Z M186.8,356.6 L185.5,358.3 L186.5,360.4 L186.9,362.5 L185.9,364.2 L185.1,366.2 L185.8,368.3 L185.9,366.3 L186.7,364.3 L188.2,362.7 L187.6,360.6 L187.5,358.6 L188.8,356.9Z M178.5,358.3 L178.0,360.6 L177.6,362.8 L178.3,365.1 L178.7,367.4 L177.6,369.5 L177.9,371.8 L178.9,369.6 L180.0,367.5 L180.3,365.2 L179.8,363.0 L180.3,360.8 L181.2,358.6Z M238.4,345.0 L240.1,343.7 L241.7,342.3 L242.6,340.3 L243.3,338.2 L244.7,336.7 L242.4,337.4 L241.7,339.4 L240.3,341.0 L238.5,342.3 L236.3,343.0Z M244.8,338.8 L243.6,341.1 L243.5,343.8 L241.7,345.6 L241.0,348.2 L242.7,346.2 L244.5,344.3 L245.3,342.0 L247.3,340.1Z M224.3,355.6 L223.9,353.2 L224.4,350.8 L224.8,348.4 L226.1,346.4 L225.9,343.9 L225.0,346.1 L223.6,348.1 L222.7,350.4 L221.7,352.6 L222.0,355.0Z M241.6,339.5 L240.1,341.4 L238.4,342.9 L237.9,345.3 L236.6,347.1 L235.4,349.2 L237.1,347.7 L238.4,345.9 L239.4,344.0 L240.9,342.3 L242.6,340.7Z M246.2,338.7 L245.9,341.4 L244.8,343.7 L245.8,346.5 L246.1,343.9 L248.1,341.8 L248.1,339.1Z M238.2,340.0 L237.2,342.1 L237.5,344.6 L236.5,346.7 L235.5,348.8 L237.5,347.3 L238.7,345.3 L239.1,343.2 L240.6,341.4Z M235.7,345.8 L234.5,348.1 L232.3,349.4 L230.7,351.7 L228.9,353.5 L231.3,352.5 L233.4,351.0 L236.0,350.2 L237.2,347.9Z M255.0,332.1 L256.2,330.5 L257.2,328.6 L257.9,326.7 L258.7,324.7 L257.1,325.9 L256.0,327.5 L254.2,328.6 L253.0,330.2Z M252.6,334.6 L251.0,336.4 L249.4,338.0 L247.9,339.8 L246.8,342.0 L248.5,340.4 L250.0,338.7 L252.2,337.7 L254.2,336.4Z M221.8,351.8 L222.7,349.7 L224.3,347.9 L226.4,347.1 L227.9,345.3 L229.7,343.7 L227.5,344.8 L225.8,346.5 L223.3,346.9 L221.1,348.0 L220.4,350.4Z M227.2,347.9 L225.3,345.5 L224.5,343.2 L224.9,340.9 L223.6,343.1 L224.0,345.4 L223.4,347.5Z M251.0,336.7 L252.2,334.9 L252.7,332.9 L252.7,330.8 L251.9,328.6 L252.3,326.6 L251.1,328.5 L250.6,330.4 L250.1,332.4 L249.4,334.4 L249.0,336.4Z M244.5,341.8 L246.1,340.6 L247.5,339.2 L248.2,337.0 L250.2,336.5 L251.5,334.8 L249.4,335.5 L247.4,336.1 L246.0,337.3 L244.2,338.3 L243.2,340.3Z M240.3,343.2 L239.6,340.8 L241.1,339.1 L241.7,337.0 L243.0,335.3 L243.2,333.1 L242.1,335.0 L240.5,336.6 L239.3,338.5 L238.2,340.3 L237.8,342.3Z M228.9,349.0 L228.7,346.8 L228.6,344.8 L229.9,343.3 L229.2,341.1 L228.9,343.0 L227.4,344.4 L227.5,346.5 L226.6,348.3Z M250.2,335.0 L250.1,337.6 L248.3,339.0 L246.8,340.8 L245.2,342.4 L247.3,341.1 L248.9,339.4 L251.1,338.3 L251.8,336.2Z M238.5,343.2 L240.3,341.2 L242.6,340.3 L245.1,339.4 L242.4,340.0 L239.5,340.1 L237.7,342.1Z M224.3,351.5 L224.3,353.9 L223.2,355.9 L221.9,357.8 L222.6,360.2 L222.7,358.1 L223.9,356.1 L225.1,354.2 L225.5,351.9Z M254.0,336.7 L252.0,338.4 L251.5,341.2 L250.6,343.8 L251.9,341.5 L253.1,339.3 L255.2,337.6Z M225.8,349.1 L224.5,351.3 L223.7,353.9 L223.0,356.6 L224.4,354.8 L225.9,352.9 L227.7,351.2Z M362.8,281.2 L363.1,283.5 L362.3,285.4 L363.1,287.7 L362.8,285.5 L364.7,283.8 L365.2,281.6Z M380.4,267.5 L379.4,269.3 L379.3,271.5 L378.1,273.3 L378.2,275.5 L376.9,277.3 L378.6,275.7 L378.8,273.5 L380.3,271.8 L380.1,269.6 L381.6,267.9Z M359.2,285.6 L358.2,283.4 L358.0,281.0 L357.4,278.7 L357.1,276.3 L356.6,278.7 L357.2,281.0 L356.8,283.5 L358.0,285.6Z M383.2,270.3 L382.6,272.3 L382.4,274.5 L383.0,276.7 L383.4,274.9 L384.5,273.2 L385.1,271.2Z M332.9,287.8 L333.4,285.3 L332.5,282.9 L333.4,280.6 L332.5,278.0 L332.3,280.5 L330.3,282.6 L331.1,285.0 L329.3,287.3Z M361.7,284.5 L362.4,287.2 L361.1,289.5 L359.9,291.8 L362.1,289.7 L364.2,287.6 L363.3,284.9Z M387.8,267.4 L388.3,265.7 L387.4,263.9 L387.2,262.0 L386.7,263.9 L386.6,265.7 L385.3,267.3Z M317.9,291.8 L319.1,294.0 L318.5,296.2 L318.7,298.5 L319.3,296.2 L320.4,294.0 L319.8,291.8Z M377.3,270.4 L378.4,272.9 L378.8,275.3 L378.1,277.4 L379.9,275.5 L379.8,273.2 L380.9,271.1Z M316.6,297.2 L317.1,295.6 L316.6,293.8 L316.2,291.9 L315.8,293.7 L316.0,295.5 L314.5,296.9Z M385.3,269.4 L385.4,267.1 L385.4,265.0 L386.3,263.0 L387.9,261.5 L388.4,259.4 L387.0,261.1 L385.3,262.6 L384.2,264.5 L384.5,266.7 L383.2,268.5Z M354.6,287.3 L356.2,285.4 L356.4,282.7 L357.1,280.2 L357.1,277.4 L356.3,279.8 L354.7,281.9 L354.3,284.5 L352.0,286.1Z M365.5,281.6 L365.1,279.2 L365.3,276.9 L364.4,274.6 L364.5,276.8 L363.5,278.9 L362.2,281.0Z M367.9,275.3 L368.9,277.2 L370.0,279.0 L369.8,281.0 L370.1,283.0 L370.8,280.9 L371.4,278.8 L370.3,277.1 L371.3,275.0Z M324.0,290.5 L323.8,288.4 L322.4,286.5 L322.0,284.4 L321.2,282.3 L321.1,284.5 L320.8,286.7 L321.7,288.6 L322.2,290.7Z M333.7,285.5 L335.6,283.8 L336.4,281.5 L336.8,279.0 L335.0,280.8 L333.2,282.6 L331.5,284.4Z M329.5,287.6 L329.7,290.2 L329.9,292.7 L329.8,295.3 L330.7,293.0 L331.1,290.7 L332.8,288.7Z M441.7,247.9 L440.4,249.6 L440.4,251.9 L439.7,253.8 L439.4,256.0 L440.3,254.2 L441.3,252.4 L442.1,250.7 L442.8,248.7Z M395.7,256.7 L395.5,258.8 L393.8,259.9 L393.1,261.8 L394.8,260.7 L396.5,259.7 L397.4,258.0Z M436.7,251.9 L435.8,248.8 L436.4,246.2 L436.8,243.6 L435.6,245.9 L434.3,248.2 L433.0,250.4Z M428.7,251.0 L430.8,249.5 L433.3,248.8 L435.2,247.0 L432.8,248.1 L430.2,248.7 L427.8,249.8Z M434.4,252.4 L433.7,254.2 L433.6,256.1 L433.3,258.1 L434.3,256.7 L434.8,255.0 L437.0,254.4Z M401.0,258.9 L400.5,261.0 L399.9,263.2 L400.3,265.5 L400.8,267.8 L400.8,265.6 L401.1,263.3 L401.6,261.1 L402.8,259.0Z M438.0,247.5 L436.8,249.7 L434.9,250.8 L433.3,252.6 L432.8,255.2 L433.9,253.3 L435.9,251.8 L438.5,251.4 L439.9,249.6Z M407.4,254.6 L407.3,257.0 L406.7,259.4 L405.1,261.1 L405.4,263.7 L406.3,261.5 L408.0,259.8 L409.1,257.6 L409.3,255.2Z M404.2,255.9 L404.2,257.9 L404.9,260.1 L405.4,262.2 L405.7,260.1 L405.9,258.1 L406.0,256.0Z M386.8,264.4 L388.3,263.9 L389.1,262.1 L390.4,260.8 L388.7,261.4 L387.4,262.4 L385.4,262.1Z M416.3,251.4 L418.1,250.2 L419.7,248.6 L420.5,246.2 L422.4,245.2 L419.9,245.3 L418.5,246.9 L417.2,248.8 L414.9,249.5Z M430.7,249.1 L432.1,246.8 L434.0,245.0 L435.6,243.0 L437.5,241.3 L435.0,242.2 L433.2,244.1 L431.1,245.6 L429.2,247.3Z M437.2,249.5 L437.1,251.6 L436.8,253.7 L435.5,255.3 L434.7,257.1 L436.6,255.7 L438.3,254.2 L438.6,252.1 L438.5,250.0Z M383.7,265.5 L383.1,267.3 L382.4,269.0 L381.5,270.5 L383.1,269.6 L384.4,268.4 L385.7,267.3Z M390.0,263.8 L391.0,262.3 L392.4,261.0 L393.5,259.4 L391.7,260.1 L390.1,261.0 L388.8,262.2Z M398.7,260.5 L399.0,258.4 L399.5,256.5 L399.9,254.5 L398.7,256.4 L397.5,258.4 L396.9,260.5Z M428.4,247.5 L428.6,250.1 L427.2,251.6 L426.7,253.7 L425.4,255.2 L427.6,254.4 L428.4,252.5 L430.0,251.1 L431.3,249.6Z M389.7,261.9 L388.8,259.8 L388.7,257.7 L389.2,255.8 L387.8,257.6 L387.6,259.6 L387.1,261.6Z M425.2,250.7 L424.0,252.1 L423.7,254.1 L423.7,256.3 L422.6,258.0 L422.6,260.2 L423.3,258.3 L424.4,256.7 L425.3,255.0 L425.3,252.9 L427.2,251.7Z M427.5,250.3 L427.2,247.9 L428.8,246.3 L429.0,244.0 L427.7,245.9 L426.1,247.6 L424.5,249.5Z M405.1,255.5 L404.9,252.6 L403.8,249.9 L402.9,247.1 L403.1,249.9 L403.9,252.6 L403.2,255.4Z M437.5,250.7 L436.8,252.5 L436.5,254.5 L436.2,256.4 L437.4,254.7 L437.8,252.8 L438.9,251.0Z M630.7,387.5 L630.2,389.5 L630.1,391.7 L630.5,394.0 L629.6,395.9 L631.1,394.1 L631.0,391.9 L631.1,389.7 L632.7,387.9Z M679.6,354.7 L680.0,356.9 L681.6,358.6 L683.5,360.2 L684.9,362.1 L684.2,359.9 L682.9,358.2 L681.5,356.5 L681.3,354.1Z M624.1,395.8 L625.2,393.7 L624.6,391.6 L623.9,389.6 L622.7,387.7 L622.7,385.7 L622.1,387.8 L622.9,389.7 L623.5,391.8 L622.9,394.0 L622.6,396.0Z M663.3,373.9 L663.4,376.0 L662.9,378.1 L663.0,380.2 L662.9,382.2 L663.9,380.1 L664.7,378.0 L665.0,376.0 L665.4,373.9Z M653.8,380.4 L652.7,379.1 L652.1,377.7 L650.4,377.0 L651.5,378.1 L651.6,380.0 L652.5,381.5Z M574.3,378.0 L573.9,375.8 L572.2,374.2 L570.5,372.6 L571.5,374.4 L572.3,376.5 L572.5,378.7Z M607.3,408.2 L605.9,406.5 L605.7,404.5 L604.5,402.6 L603.5,400.8 L601.7,399.3 L602.7,401.0 L603.8,402.8 L604.6,404.7 L603.9,407.0 L604.7,408.9Z M590.0,408.4 L589.9,406.4 L589.4,404.5 L588.8,402.5 L587.3,401.1 L585.1,400.2 L586.1,401.6 L587.0,403.4 L587.7,405.3 L588.2,407.3 L588.3,409.2Z M635.9,384.2 L636.9,386.4 L637.3,388.6 L637.6,390.8 L638.2,388.7 L638.8,386.5 L639.1,384.4Z M573.0,376.9 L571.5,378.3 L571.6,380.5 L570.9,382.4 L570.1,384.2 L572.0,382.9 L573.0,381.1 L573.5,379.2 L574.7,377.7Z M668.4,362.3 L670.0,364.5 L671.6,366.6 L671.7,369.1 L672.6,371.6 L672.1,369.0 L672.6,366.4 L671.1,364.2 L669.7,362.0Z M588.5,408.0 L587.0,406.4 L586.6,404.4 L585.4,402.5 L585.9,404.5 L585.6,406.7 L586.7,408.4Z M663.6,368.4 L663.5,370.4 L663.7,372.5 L664.1,374.6 L664.5,372.5 L664.5,370.5 L665.9,368.5Z M645.5,382.9 L646.8,385.3 L646.1,387.8 L645.6,390.3 L646.9,392.7 L646.5,390.1 L647.4,387.6 L648.0,385.0 L647.6,382.4Z M586.8,399.8 L587.6,398.1 L586.8,396.0 L587.0,394.0 L587.7,392.2 L586.2,393.8 L585.6,395.8 L585.8,397.7 L584.2,399.3Z M552.3,393.2 L553.1,394.7 L554.9,395.5 L555.8,396.9 L555.4,395.1 L554.1,394.0 L553.6,392.2Z M614.9,405.6 L615.3,403.5 L615.6,401.5 L614.3,399.7 L613.7,397.6 L613.5,399.8 L614.6,401.6 L613.6,403.7 L613.3,405.8Z M617.2,402.1 L617.5,404.4 L618.9,406.4 L620.5,408.3 L620.2,405.9 L619.7,403.5 L619.8,401.1Z M549.3,383.9 L549.8,381.9 L550.6,380.1 L551.3,378.2 L551.6,376.2 L551.1,374.2 L551.1,376.2 L550.4,378.1 L549.6,380.0 L548.4,381.8 L548.1,383.8Z M666.7,368.4 L667.5,366.9 L667.9,365.1 L667.8,363.2 L667.1,364.8 L666.3,366.4 L664.8,367.6Z M639.6,382.0 L641.0,383.0 L642.2,384.1 L643.4,385.2 L642.9,383.6 L642.4,382.0 L641.4,380.7Z M679.9,357.0 L680.8,354.6 L681.0,351.9 L680.8,349.2 L680.0,346.4 L679.7,348.8 L679.2,351.3 L678.3,353.7 L678.1,356.4Z M651.2,384.0 L652.2,381.7 L653.4,379.4 L653.1,376.8 L653.7,374.3 L652.4,376.7 L652.5,379.3 L650.9,381.5 L649.0,383.7Z M680.3,352.7 L681.0,354.7 L682.4,356.7 L682.1,358.8 L681.7,360.8 L682.7,358.7 L683.5,356.6 L683.4,354.4 L682.0,352.5Z M615.0,401.1 L616.2,403.0 L617.3,405.0 L618.5,407.0 L619.2,409.2 L619.3,407.0 L618.7,405.0 L618.1,403.0 L617.2,401.0Z M632.9,385.9 L633.8,388.1 L635.9,389.6 L636.6,391.9 L636.7,389.2 L635.0,387.4 L635.4,384.6Z M558.4,385.9 L557.8,384.0 L556.8,382.2 L555.3,380.7 L554.3,379.1 L554.9,381.1 L555.7,383.0 L556.9,384.7 L557.4,386.7Z M592.8,412.4 L594.1,414.3 L595.5,416.2 L597.0,418.1 L597.1,420.3 L597.8,417.8 L596.7,415.7 L595.1,413.9 L593.9,411.9Z M670.5,362.5 L668.8,363.9 L668.7,366.2 L668.3,368.3 L667.4,370.3 L666.7,372.4 L668.1,370.6 L669.0,368.7 L669.5,366.6 L670.3,364.6 L672.2,363.4Z M666.6,369.4 L665.5,367.4 L664.6,365.5 L663.1,363.7 L663.4,365.6 L663.7,367.5 L663.0,369.6Z M653.2,381.2 L651.1,379.7 L651.0,377.5 L649.7,375.6 L649.1,373.5 L648.6,371.5 L648.2,373.8 L648.4,376.0 L648.8,378.2 L649.6,380.2 L650.2,382.1Z M614.2,404.3 L613.7,407.0 L612.6,409.3 L611.8,411.7 L610.9,414.2 L612.9,412.3 L613.6,409.8 L615.8,408.1 L617.2,405.9Z M660.2,376.9 L660.9,378.8 L662.2,380.4 L663.5,382.0 L663.9,383.9 L665.7,385.1 L664.4,383.6 L664.6,381.4 L663.1,379.9 L661.7,378.4 L661.3,376.3Z M684.5,351.5 L683.5,349.9 L683.7,348.1 L682.2,346.8 L682.8,348.4 L682.4,350.3 L682.9,352.0Z M657.1,379.6 L655.4,381.4 L655.5,384.1 L654.7,386.6 L656.3,384.5 L657.1,382.2 L658.8,380.4Z M620.4,399.0 L620.4,400.9 L620.1,402.9 L619.6,404.9 L620.8,402.8 L622.1,400.8 L623.9,398.7Z M601.0,412.2 L601.9,414.5 L602.4,416.8 L603.8,418.9 L604.5,421.3 L604.6,418.8 L603.9,416.6 L603.3,414.3 L602.7,411.9Z M650.3,383.2 L650.7,385.3 L650.4,387.1 L649.6,388.8 L651.1,387.3 L651.4,385.5 L651.8,383.7Z M597.7,413.0 L597.3,414.6 L597.1,416.4 L597.2,418.2 L597.7,416.6 L598.7,415.2 L600.0,413.9Z M677.4,358.4 L678.6,359.8 L679.8,361.3 L681.1,362.7 L680.2,361.0 L679.8,359.0 L678.9,357.4Z M650.7,380.3 L649.4,378.2 L649.5,375.8 L647.8,373.8 L647.4,371.5 L647.1,373.9 L647.5,376.1 L647.4,378.4 L647.8,380.7Z M616.1,403.8 L616.0,401.4 L615.3,399.1 L615.0,396.6 L614.1,394.3 L614.6,396.7 L614.6,399.2 L615.1,401.6 L614.4,404.2Z M803.5,265.2 L802.5,263.2 L801.4,261.4 L800.5,259.5 L799.6,257.6 L799.4,259.9 L799.7,262.2 L800.6,264.1 L801.4,266.1Z M735.8,288.0 L735.8,285.5 L734.9,283.1 L734.4,280.6 L732.4,278.6 L733.6,280.9 L733.8,283.6 L733.3,286.5 L733.0,289.2Z M695.1,339.4 L693.7,341.2 L692.0,342.6 L691.8,345.3 L693.0,343.5 L695.2,342.5 L697.7,341.7Z M703.8,330.9 L704.3,332.4 L705.2,333.7 L705.5,335.2 L706.0,333.6 L705.5,332.2 L706.3,330.6Z M813.9,259.5 L815.4,257.7 L815.5,255.1 L817.6,253.9 L818.9,251.8 L816.7,253.2 L814.6,254.4 L814.0,256.7 L812.0,258.2Z M789.4,282.5 L788.5,280.1 L787.2,277.9 L785.1,276.1 L782.9,274.2 L784.0,276.4 L785.7,278.3 L787.4,280.5 L787.4,283.2Z M803.7,267.3 L802.9,265.0 L803.2,262.5 L802.5,260.2 L802.3,262.8 L802.0,265.2 L801.8,267.8Z M720.7,306.2 L719.6,303.7 L719.6,301.0 L718.6,298.3 L718.6,300.9 L718.2,303.5 L718.8,306.0Z M708.2,325.4 L707.1,323.1 L707.6,320.6 L707.9,318.2 L708.4,315.8 L707.2,318.2 L705.8,320.6 L705.2,323.1 L706.3,325.4Z M814.9,260.9 L816.1,259.1 L817.0,257.1 L817.5,254.8 L816.3,256.2 L814.6,257.3 L813.1,258.7Z M710.5,320.5 L710.6,323.0 L709.9,325.4 L709.8,327.9 L709.3,330.3 L710.6,328.0 L711.1,325.6 L711.8,323.3 L711.6,320.8Z M837.0,250.0 L837.6,248.4 L838.4,247.0 L839.4,245.9 L837.3,245.9 L836.4,247.2 L835.7,248.6Z M693.1,343.1 L695.0,345.3 L694.1,347.8 L695.1,350.3 L696.2,352.7 L695.7,350.2 L695.0,347.6 L695.8,345.1 L695.0,342.8Z M756.7,273.9 L755.9,272.2 L754.4,270.9 L753.7,269.2 L753.9,271.2 L754.7,272.8 L755.1,274.7Z M757.6,272.4 L756.5,273.6 L755.2,274.5 L754.0,275.6 L755.8,275.1 L757.2,274.2 L758.7,273.5Z M787.7,281.3 L785.3,279.1 L783.9,276.6 L783.3,273.9 L782.8,276.8 L783.8,279.4 L784.7,281.8Z M724.0,298.3 L722.5,299.3 L722.1,301.4 L720.7,302.5 L722.6,302.0 L723.7,300.7 L725.2,299.7Z M812.9,259.9 L814.8,261.8 L814.3,264.4 L816.1,266.4 L815.2,264.1 L815.8,261.6 L814.5,259.5Z M733.3,289.9 L733.8,287.3 L732.2,285.0 L731.4,282.5 L730.3,280.0 L730.6,282.6 L731.4,285.1 L732.3,287.5 L731.9,290.1Z M735.9,283.5 L735.8,286.0 L737.4,288.1 L737.8,290.5 L738.7,287.9 L738.0,285.5 L738.8,282.9Z M820.0,253.4 L819.7,255.8 L818.2,257.3 L817.1,259.2 L815.7,260.7 L818.0,260.1 L819.5,258.5 L821.1,257.2 L822.2,255.6Z M720.1,310.8 L720.2,308.5 L718.7,306.6 L718.7,304.4 L718.3,306.7 L719.5,308.7 L719.0,311.0Z M773.9,276.3 L774.0,279.3 L773.0,281.9 L772.9,284.7 L773.7,282.1 L775.2,279.7 L776.6,277.2Z M806.1,266.0 L806.2,268.2 L806.8,270.5 L807.2,272.7 L808.7,274.7 L807.8,272.6 L808.2,270.2 L807.5,267.9 L808.5,265.5Z M694.3,343.0 L693.2,344.8 L692.4,346.7 L692.4,349.0 L693.1,347.1 L694.6,345.5 L695.5,343.6Z M91.1,656.3 L91.7,658.0 L92.4,659.5 L93.0,661.2 L93.3,659.5 L92.9,657.9 L92.9,656.3Z M98.9,649.4 L98.3,651.6 L98.8,653.9 L99.7,656.3 L100.1,654.2 L100.7,652.1 L101.3,649.9Z M63.8,677.6 L62.9,676.1 L62.8,674.4 L62.9,672.7 L61.9,674.5 L61.4,676.3 L62.3,677.8Z M484.6,197.2 L485.8,196.2 L486.1,194.5 L486.6,193.0 L485.3,194.0 L484.1,195.2 L483.3,196.5Z M497.2,194.0 L494.9,194.6 L492.6,195.6 L490.5,197.0 L492.9,196.1 L495.4,195.2 L498.1,195.2Z M294.6,345.4 L295.5,343.4 L295.9,341.2 L296.9,339.2 L297.7,337.0 L296.1,338.5 L294.7,340.2 L294.0,342.2 L293.3,344.3Z M287.6,342.5 L287.0,339.9 L285.7,337.7 L286.3,335.3 L286.1,332.8 L285.3,335.4 L284.2,337.9 L285.4,340.1 L284.7,342.8Z M283.8,320.7 L284.4,318.8 L285.6,317.2 L285.9,315.2 L286.4,313.3 L285.3,315.0 L284.6,316.8 L283.0,318.3 L281.7,319.9Z M286.2,326.4 L287.4,324.5 L286.8,322.0 L288.1,320.2 L288.4,317.9 L287.2,319.8 L285.9,321.6 L285.3,323.6 L283.6,325.3Z M276.6,328.9 L277.9,326.9 L278.6,324.5 L280.1,323.0 L281.7,321.3 L279.4,322.3 L277.0,323.1 L275.7,325.0 L274.0,326.6Z M303.0,311.7 L302.3,310.2 L301.7,308.7 L300.6,307.2 L300.4,308.7 L301.0,310.2 L300.4,311.8Z M324.8,312.3 L325.2,309.8 L324.7,307.2 L324.1,304.7 L322.1,302.5 L323.0,304.8 L323.2,307.3 L323.3,309.9 L322.8,312.5Z M302.0,322.0 L303.2,319.8 L303.9,317.1 L305.9,315.8 L303.3,316.5 L302.2,318.6 L300.8,320.7Z M305.7,310.5 L306.2,309.0 L306.9,307.6 L306.0,306.0 L305.9,307.4 L304.8,308.8 L304.1,310.2Z M299.7,333.3 L299.9,330.5 L301.5,328.6 L301.7,325.7 L299.9,327.9 L297.4,329.4 L296.7,332.0Z M448.2,219.7 L449.2,217.4 L451.1,215.8 L452.4,213.7 L453.7,211.6 L455.2,209.5 L453.3,211.0 L451.7,212.9 L450.4,215.0 L448.1,216.1 L446.9,218.2Z M451.7,225.0 L453.0,223.3 L455.1,222.8 L456.0,220.9 L457.5,219.4 L458.5,217.4 L459.1,215.2 L458.0,216.8 L456.4,218.1 L454.7,219.4 L453.8,221.2 L452.0,222.1 L450.5,223.6Z M467.6,217.9 L468.2,215.8 L467.4,213.5 L466.6,211.3 L465.6,209.1 L465.3,211.4 L465.2,213.6 L465.2,215.9 L464.2,218.0Z M466.3,225.1 L468.5,223.8 L470.5,222.1 L472.8,220.8 L474.9,219.2 L472.3,219.9 L469.9,221.1 L468.0,222.9 L465.1,223.0Z M466.8,212.1 L466.4,209.5 L468.2,207.9 L469.5,205.9 L470.8,204.0 L471.1,201.6 L470.4,203.8 L468.6,205.5 L467.4,207.5 L465.6,209.1 L465.1,211.2Z M459.2,230.1 L459.7,228.1 L459.8,226.0 L459.9,223.9 L458.9,221.6 L457.8,223.6 L456.5,225.6 L455.9,227.6 L455.1,229.6Z M447.9,215.4 L446.7,213.4 L445.7,211.4 L445.9,209.1 L445.0,207.0 L444.0,204.9 L444.0,207.2 L443.8,209.6 L443.8,211.8 L444.7,213.9 L445.5,215.9Z M453.1,231.3 L454.1,229.6 L455.0,227.6 L456.3,226.0 L458.2,225.3 L459.5,223.7 L457.8,224.9 L455.7,225.4 L454.0,226.6 L452.7,228.1 L451.9,230.1Z M442.1,237.0 L443.7,234.6 L445.9,232.9 L447.5,230.5 L445.2,231.9 L442.7,233.0 L440.5,234.6Z M450.6,217.0 L452.0,215.4 L452.5,212.9 L453.4,211.0 L453.6,208.4 L452.1,209.6 L451.3,211.6 L449.2,212.4 L447.3,213.4Z M446.9,221.0 L448.3,219.6 L449.7,218.1 L450.7,216.2 L452.4,215.0 L454.1,213.9 L452.0,214.3 L450.3,215.4 L448.9,216.8 L447.7,218.4 L446.3,219.9Z M65.3,566.6 L65.5,569.4 L65.6,572.2 L66.2,575.0 L66.7,571.9 L66.9,568.9 L67.7,565.9Z M65.1,579.8 L64.6,577.6 L64.8,575.5 L63.9,573.1 L63.3,574.8 L62.7,576.8 L62.7,578.8Z M66.2,582.1 L67.0,583.3 L68.6,584.1 L68.8,585.3 L69.5,583.8 L69.5,582.4 L69.0,581.1Z M67.4,581.1 L66.7,579.8 L66.8,578.7 L66.0,577.4 L65.6,578.5 L64.5,579.5 L63.8,580.6Z M71.3,567.1 L71.9,565.6 L72.2,563.8 L73.1,562.6 L71.4,563.1 L70.3,564.2 L69.6,565.7Z M79.8,576.5 L80.6,575.1 L81.7,574.0 L82.8,573.0 L80.8,573.2 L79.5,574.1 L77.8,574.7Z M71.9,566.4 L73.1,567.5 L74.8,567.2 L76.5,567.0 L75.0,566.6 L73.6,566.0 L72.3,565.2Z M64.5,581.2 L64.5,582.2 L64.4,583.2 L65.3,584.2 L65.4,583.2 L66.1,582.2 L66.6,581.1Z M73.2,578.4 L75.9,578.1 L78.7,578.4 L81.4,578.6 L78.8,577.9 L76.2,577.0 L73.5,577.3Z M63.1,582.4 L65.3,581.9 L67.4,581.9 L69.6,581.4 L67.7,580.7 L65.6,580.6 L63.6,580.3Z M67.7,575.8 L67.8,573.2 L68.5,570.7 L69.7,568.4 L68.1,570.5 L66.4,572.7 L66.4,575.4Z M67.0,568.1 L68.0,569.7 L69.5,570.9 L70.4,572.5 L70.3,570.7 L69.7,569.3 L70.7,567.4Z M68.1,579.6 L69.2,579.5 L70.3,578.7 L71.4,577.9 L70.4,578.0 L69.3,577.8 L68.2,578.2Z" fill="#fff" stroke="#000" stroke-width="1" shape-rendering="crispEdges"/>
<path d="M160.4,385.6 L160.4,387.7 L159.2,389.3 L158.4,391.1 L159.2,393.2 L159.3,391.2 L160.6,389.6 L162.0,388.0 L163.1,386.1Z M157.7,388.9 L158.2,386.9 L157.7,384.9 L158.4,382.9 L158.2,380.8 L157.6,382.7 L156.6,384.6 L157.0,386.6 L156.3,388.6Z M160.9,381.3 L161.8,379.2 L163.3,377.9 L165.1,377.0 L162.9,377.4 L160.8,378.3 L158.7,379.2Z M159.8,385.1 L159.6,386.6 L158.9,388.0 L158.8,389.6 L159.9,388.2 L161.1,386.9 L162.4,385.6Z M166.8,379.6 L167.7,376.9 L169.3,374.8 L171.5,373.4 L168.8,374.2 L166.0,375.2 L164.9,377.5Z M158.3,385.3 L159.4,387.1 L160.0,389.0 L160.4,391.0 L160.8,389.1 L160.3,387.2 L160.2,385.5Z M147.6,392.8 L148.5,390.7 L148.8,388.1 L150.7,386.8 L150.9,384.2 L149.9,386.3 L147.8,387.4 L146.1,389.1 L145.4,391.4Z M151.3,386.9 L150.9,388.4 L149.9,389.4 L149.4,390.9 L150.6,389.9 L152.3,389.4 L153.2,388.2Z M147.3,397.6 L146.1,400.2 L144.1,402.1 L143.4,405.0 L144.5,402.4 L147.1,400.8 L149.0,398.6Z M153.0,392.7 L154.4,390.9 L155.9,389.3 L157.3,387.6 L155.2,388.9 L153.1,390.1 L150.9,391.4Z M151.3,387.6 L151.4,389.4 L150.3,390.4 L149.7,391.7 L151.3,390.8 L152.6,389.8 L153.2,388.5Z M180.0,368.7 L179.7,370.6 L178.7,372.3 L178.3,374.2 L179.5,372.5 L180.9,371.0 L182.2,369.3Z M149.1,394.8 L150.1,392.7 L151.3,390.6 L153.4,390.1 L154.7,388.1 L152.7,389.2 L150.5,389.7 L148.7,391.0 L147.4,392.7Z M184.1,372.0 L185.9,370.2 L186.4,367.6 L186.6,364.8 L185.4,367.0 L184.4,369.3 L182.2,370.9Z M154.0,386.6 L154.3,384.2 L154.0,381.7 L154.1,379.3 L153.2,381.6 L152.4,383.8 L151.3,386.0Z M167.6,382.4 L168.4,380.5 L168.4,378.3 L169.3,376.5 L167.7,378.2 L166.8,380.2 L165.7,382.1Z M168.8,379.0 L169.6,376.4 L170.8,374.1 L172.7,372.5 L170.2,373.8 L167.9,375.4 L166.2,377.4Z M167.1,383.0 L166.4,384.7 L165.9,386.6 L164.7,387.8 L166.7,387.4 L167.6,385.9 L168.3,384.3Z M149.5,390.8 L149.3,393.5 L148.0,395.7 L146.2,397.0 L145.8,399.7 L147.1,397.7 L149.7,397.1 L151.1,395.0 L152.7,393.2Z M161.9,378.8 L161.4,380.9 L161.9,383.1 L161.1,385.2 L161.9,387.4 L161.9,385.4 L162.8,383.3 L162.4,381.2 L163.2,379.2Z M176.4,378.2 L176.2,379.8 L176.8,381.5 L176.5,383.0 L177.7,381.6 L178.6,380.2 L178.3,378.6Z M153.0,394.2 L154.2,393.0 L154.2,391.1 L155.0,389.6 L153.6,390.7 L153.0,392.2 L151.8,393.4Z M150.9,395.6 L150.6,392.9 L150.2,390.2 L150.3,387.6 L149.6,390.1 L149.6,392.7 L148.3,395.2Z M159.8,384.6 L161.1,382.8 L162.0,380.5 L162.3,378.0 L161.4,380.0 L159.7,381.7 L157.4,382.7Z M146.8,394.4 L146.5,395.9 L146.5,397.7 L146.9,399.6 L147.6,398.0 L148.0,396.4 L149.8,395.3Z M150.7,390.1 L150.2,387.3 L150.3,384.6 L149.7,382.0 L150.0,379.4 L148.8,381.7 L149.1,384.2 L148.6,386.8 L147.8,389.2Z M150.6,388.7 L151.3,390.3 L151.6,392.0 L151.7,393.8 L152.4,392.1 L152.4,390.4 L151.9,388.8Z M174.6,376.8 L176.9,375.9 L178.7,374.3 L179.0,371.5 L178.0,373.6 L175.8,374.9 L173.5,375.8Z M180.7,373.9 L181.6,372.2 L182.9,371.0 L183.8,369.3 L182.1,370.2 L180.2,370.9 L178.6,372.0Z M170.2,377.9 L170.9,379.9 L170.6,381.7 L170.3,383.5 L171.4,382.0 L172.4,380.3 L172.6,378.6Z M215.9,358.6 L217.1,356.7 L218.0,354.7 L218.5,352.7 L218.5,350.6 L219.8,348.9 L220.3,346.8 L220.0,344.6 L221.3,343.0 L222.0,341.0 L222.1,338.8 L221.2,340.8 L220.4,342.8 L219.0,344.4 L218.7,346.5 L218.5,348.6 L217.3,350.4 L217.3,352.5 L215.9,354.3 L215.0,356.2 L214.4,358.2Z M194.6,365.3 L194.8,367.7 L195.2,370.1 L193.6,371.7 L193.7,374.1 L194.7,372.0 L196.0,370.3 L196.3,368.2 L197.3,366.2Z M189.2,369.9 L188.5,372.1 L188.1,374.2 L186.2,376.0 L186.1,378.3 L185.4,380.4 L186.6,382.7 L186.4,380.6 L188.1,378.7 L188.6,376.4 L189.7,374.5 L191.4,372.6 L191.6,370.3Z M196.7,369.3 L196.9,367.3 L196.6,365.1 L197.4,363.0 L196.3,361.0 L196.1,358.8 L195.5,356.6 L195.0,358.7 L194.9,360.9 L195.7,362.9 L195.3,365.0 L195.4,367.2 L193.9,369.2Z M194.0,371.1 L194.5,369.2 L193.7,367.2 L194.5,365.2 L195.5,363.4 L196.7,361.6 L196.7,359.5 L196.3,357.4 L196.5,355.3 L196.0,353.3 L195.1,351.2 L195.1,353.2 L195.9,355.2 L195.5,357.3 L195.8,359.3 L195.2,361.4 L194.6,363.3 L193.4,365.1 L192.6,367.0 L193.1,369.0 L191.8,370.8Z M209.0,363.4 L209.2,360.9 L210.0,358.5 L209.9,355.9 L208.3,353.6 L208.7,356.0 L208.3,358.5 L207.3,360.9 L207.0,363.4Z M189.0,371.5 L188.7,373.7 L188.9,376.2 L190.4,378.4 L190.7,380.8 L191.3,378.4 L190.6,376.2 L190.4,373.8 L192.0,371.5Z M207.2,361.9 L206.0,363.8 L206.4,366.2 L205.1,368.0 L203.7,369.9 L203.5,372.1 L202.8,374.2 L202.1,376.3 L203.5,374.4 L204.9,372.5 L204.7,370.1 L206.0,368.2 L207.7,366.6 L208.1,364.4 L209.3,362.4Z M188.7,371.9 L188.2,374.0 L187.9,376.1 L188.8,378.1 L189.3,380.2 L189.5,378.1 L188.9,376.1 L189.6,374.1 L190.3,372.0Z M214.9,361.1 L213.7,359.2 L213.5,357.3 L213.9,355.3 L213.5,353.3 L213.4,351.2 L212.5,349.3 L212.9,347.3 L212.2,345.3 L211.2,343.5 L209.9,341.5 L209.8,343.6 L211.1,345.3 L211.4,347.4 L211.1,349.4 L212.0,351.3 L211.7,353.4 L211.0,355.5 L210.3,357.5 L211.9,359.4 L212.6,361.2Z M198.7,363.3 L200.1,365.4 L200.6,367.5 L200.2,369.6 L201.2,371.6 L202.3,373.6 L202.6,375.7 L203.6,373.6 L202.9,371.6 L202.2,369.6 L202.7,367.5 L202.1,365.4 L202.4,363.3Z M232.0,353.5 L232.7,351.3 L232.9,348.8 L232.3,346.2 L231.8,348.3 L230.9,350.4 L230.1,352.6Z M238.6,348.0 L236.8,349.8 L237.0,352.7 L236.5,355.4 L237.8,353.1 L238.8,350.7 L241.0,349.1Z M229.2,356.8 L230.0,354.5 L231.3,352.6 L233.1,351.3 L234.4,349.5 L232.5,350.7 L230.2,351.3 L228.6,353.0 L227.1,354.5Z M238.5,346.6 L238.1,349.1 L236.1,350.4 L235.9,353.1 L233.9,354.5 L234.0,357.4 L235.1,355.5 L236.7,353.7 L238.0,351.9 L240.3,351.0 L241.2,348.9Z M249.2,346.1 L249.9,344.0 L251.3,342.3 L252.1,340.1 L253.4,338.4 L254.0,336.2 L252.8,337.9 L251.1,339.3 L249.4,340.7 L247.8,342.2 L246.8,344.1Z M250.1,344.7 L249.2,342.4 L248.5,340.2 L249.7,338.3 L250.1,336.0 L250.9,334.0 L249.1,335.9 L248.2,338.0 L246.8,340.0 L247.7,342.2 L248.1,344.4Z M248.1,344.0 L249.5,342.5 L251.1,341.3 L252.1,339.6 L253.5,338.3 L254.9,336.8 L253.1,337.9 L251.1,338.8 L250.5,340.8 L248.7,341.8 L246.9,342.8Z M256.0,339.1 L254.8,341.8 L253.3,344.2 L253.1,347.3 L254.0,344.7 L256.4,342.9 L257.6,340.3Z M221.6,355.6 L220.9,358.9 L218.8,361.0 L217.2,363.6 L219.5,361.8 L221.7,359.9 L223.8,358.1Z M241.6,348.2 L242.4,346.3 L242.4,344.2 L243.2,342.5 L243.4,340.4 L242.4,342.3 L240.6,343.7 L240.1,345.7 L239.3,347.6Z M227.3,360.1 L229.5,358.5 L231.7,356.4 L233.1,353.6 L230.8,355.6 L228.5,357.5 L225.1,358.0Z M238.6,349.8 L238.9,347.7 L240.1,345.8 L241.8,344.4 L242.1,342.2 L243.5,340.6 L241.3,341.6 L240.8,343.7 L238.8,344.8 L237.6,346.7 L237.3,348.9Z M261.4,336.2 L262.7,333.6 L263.9,331.1 L265.8,329.1 L263.3,330.6 L262.2,333.1 L260.7,335.3Z M241.8,349.0 L240.9,351.6 L239.3,353.6 L237.4,355.2 L235.4,356.6 L237.8,355.8 L240.3,354.9 L241.9,352.9 L243.5,351.2Z M255.8,340.9 L257.1,339.2 L258.7,337.8 L259.9,336.0 L258.1,337.3 L256.4,338.6 L254.1,339.5Z M233.6,356.4 L234.3,353.8 L236.3,352.6 L237.9,350.7 L235.8,352.0 L233.3,352.5 L231.8,354.2Z M375.9,276.0 L375.4,278.4 L374.7,280.8 L374.5,283.1 L374.9,285.5 L375.0,283.1 L376.3,280.7 L376.9,278.3 L377.3,275.9Z M350.0,292.1 L349.0,289.6 L348.2,287.0 L346.4,284.8 L346.8,282.4 L345.3,284.9 L346.1,287.2 L346.4,289.8 L346.8,292.4Z M353.8,290.6 L353.8,292.8 L354.4,295.1 L355.0,297.2 L354.2,299.2 L355.1,301.4 L354.9,299.4 L355.8,297.3 L355.2,295.2 L355.6,293.1 L355.1,290.9Z M358.8,289.0 L358.9,291.0 L358.7,293.1 L358.6,295.1 L358.1,297.1 L357.9,299.2 L359.3,297.5 L359.6,295.5 L359.9,293.5 L361.0,291.6 L360.5,289.6Z M321.8,293.8 L321.3,296.5 L319.7,298.5 L319.7,301.3 L318.6,303.6 L320.6,301.7 L321.9,299.3 L323.6,297.3 L324.4,294.8Z M377.2,278.4 L375.7,280.1 L375.1,282.4 L373.9,284.4 L373.2,286.5 L374.6,284.7 L375.9,282.8 L377.4,281.0 L378.6,279.0Z M328.8,292.8 L328.8,290.6 L328.3,288.3 L328.0,286.1 L326.9,283.9 L327.3,286.0 L326.9,288.1 L327.0,290.3 L327.1,292.5Z M365.8,289.9 L367.2,287.9 L368.2,285.7 L369.8,283.9 L371.2,282.0 L369.1,283.6 L367.1,285.3 L365.0,286.9 L363.4,288.9Z M374.5,278.6 L374.9,276.6 L375.3,274.5 L375.4,272.3 L375.8,270.3 L374.6,272.2 L374.1,274.3 L373.4,276.3 L371.9,278.1Z M342.5,293.1 L342.7,295.7 L343.3,298.2 L344.5,300.8 L344.4,303.3 L345.2,300.8 L345.1,298.4 L344.6,295.9 L345.2,293.4Z M353.3,290.1 L353.6,292.8 L352.8,295.2 L353.4,297.9 L353.6,295.5 L355.2,293.3 L356.3,291.0Z M345.9,293.8 L345.9,291.6 L347.5,289.9 L347.6,287.7 L347.4,285.5 L348.3,283.7 L346.4,285.3 L346.6,287.5 L345.6,289.5 L344.3,291.2 L343.6,293.3Z M364.8,286.7 L364.5,284.4 L364.0,282.2 L363.0,280.1 L363.6,278.0 L362.3,280.0 L363.2,282.1 L363.2,284.3 L363.0,286.6Z M402.0,263.7 L402.9,261.7 L402.7,259.5 L403.0,257.3 L402.6,255.0 L402.2,257.0 L401.5,259.0 L401.1,261.0 L400.7,263.1Z M405.0,258.4 L405.6,261.0 L405.5,263.4 L404.3,265.4 L406.3,263.7 L406.7,261.3 L407.0,259.0Z M439.4,256.2 L439.1,257.7 L439.6,259.4 L439.4,260.9 L440.4,259.5 L441.0,258.0 L441.6,256.5Z M434.2,257.3 L434.2,259.3 L434.5,261.3 L435.1,263.5 L434.1,265.3 L433.5,267.2 L434.9,265.5 L436.0,263.8 L436.6,262.0 L436.6,260.0 L436.0,257.9Z M428.2,256.3 L426.9,257.9 L426.2,259.9 L425.3,261.9 L425.9,264.1 L425.8,266.3 L426.7,264.3 L426.6,262.3 L427.5,260.3 L429.0,258.6 L430.5,257.0Z M394.5,265.6 L394.1,263.4 L395.0,261.5 L395.7,259.6 L395.2,257.3 L394.8,259.3 L393.1,260.8 L392.2,262.7 L391.7,264.6Z M396.6,265.5 L398.0,264.1 L399.1,262.4 L400.7,261.3 L398.5,261.7 L397.1,263.0 L394.6,263.0Z M407.3,259.4 L408.1,257.3 L409.4,255.5 L410.6,253.8 L408.6,255.2 L407.0,256.8 L405.8,258.8Z M413.9,256.1 L412.9,258.1 L413.2,260.3 L413.7,262.4 L413.8,264.6 L414.2,262.5 L413.8,260.4 L414.5,258.3 L415.0,256.3Z M442.7,250.5 L441.5,252.6 L439.5,253.4 L437.5,254.7 L436.4,257.0 L438.3,255.6 L440.3,254.4 L442.8,254.0 L444.4,252.4Z M398.4,262.7 L398.7,260.5 L398.6,258.3 L398.7,256.2 L399.3,254.1 L398.2,256.1 L397.6,258.2 L397.2,260.4 L397.4,262.6Z M446.6,251.3 L447.6,249.0 L448.4,246.5 L449.1,244.0 L447.9,246.4 L446.7,248.9 L444.8,251.1Z M444.1,255.4 L444.2,252.9 L443.6,250.4 L443.9,248.0 L442.2,250.2 L442.5,252.6 L440.9,254.8Z M425.2,254.5 L423.4,256.4 L421.0,257.1 L419.6,259.4 L421.4,257.8 L423.8,257.1 L426.3,256.3Z M412.3,257.1 L411.6,258.4 L411.7,260.2 L412.1,261.8 L412.4,260.4 L413.6,259.3 L413.7,257.7Z M440.4,256.7 L442.2,255.0 L444.3,253.6 L445.1,251.0 L443.5,253.0 L441.0,254.0 L438.5,255.2Z M429.0,252.8 L428.4,254.7 L427.8,256.9 L426.7,258.8 L426.2,260.9 L427.3,259.2 L428.7,257.6 L430.1,256.1 L430.4,253.9Z M428.3,252.8 L426.9,254.2 L425.2,255.6 L423.7,257.1 L422.3,258.8 L421.4,261.0 L422.8,259.5 L424.7,258.5 L426.3,257.2 L428.4,256.5 L429.3,254.3Z M662.3,383.9 L661.7,382.0 L660.8,380.1 L660.7,378.1 L661.0,376.3 L659.8,378.2 L659.2,380.3 L659.1,382.4 L660.4,384.1Z M653.1,387.9 L652.8,385.4 L651.8,383.1 L651.2,380.6 L649.2,378.8 L650.4,381.1 L650.9,383.6 L651.7,386.0 L651.5,388.7Z M551.6,395.4 L554.1,396.7 L556.4,398.3 L557.3,400.6 L557.4,397.6 L556.2,395.2 L554.0,393.7Z M563.8,389.2 L564.4,386.8 L564.8,384.3 L564.5,381.7 L565.1,379.2 L563.5,381.3 L563.1,383.6 L561.8,385.8 L561.6,388.4Z M623.4,403.3 L623.4,406.0 L624.4,408.1 L626.3,410.1 L625.0,407.8 L625.7,404.9 L625.3,402.4Z M550.7,397.2 L552.7,397.8 L553.6,399.6 L555.6,400.4 L554.7,398.7 L553.7,397.0 L552.2,395.9Z M648.2,388.4 L649.5,386.6 L650.2,384.5 L650.8,382.3 L649.5,384.1 L648.1,385.9 L646.6,387.5Z M540.0,378.0 L541.3,379.4 L542.7,380.7 L544.4,382.1 L543.7,380.4 L543.0,378.8 L542.0,377.3Z M592.6,415.5 L592.1,413.2 L591.5,410.9 L591.4,408.7 L590.1,406.5 L590.5,408.9 L589.8,411.4 L589.5,413.8 L590.1,416.2Z M592.0,420.2 L592.9,417.5 L592.2,414.9 L590.6,412.6 L591.5,415.1 L591.4,417.9 L590.9,420.5Z M669.3,367.2 L669.1,369.4 L668.8,371.5 L669.2,373.7 L669.9,371.5 L670.6,369.4 L671.5,367.3Z M587.0,416.4 L588.0,413.6 L588.6,410.8 L588.6,407.8 L587.7,410.7 L586.3,413.4 L585.0,416.1Z M607.0,417.7 L606.1,415.8 L605.7,413.9 L605.5,411.9 L605.1,410.0 L604.2,412.1 L604.0,414.1 L604.6,416.1 L603.7,418.2Z M545.3,384.2 L544.8,386.5 L545.4,388.6 L547.5,390.2 L548.6,392.3 L549.8,394.3 L549.5,392.1 L548.7,390.0 L548.0,388.1 L547.1,386.0 L547.3,383.9Z M672.7,366.5 L672.5,364.9 L672.7,363.4 L671.8,361.8 L672.2,363.4 L671.4,365.0 L670.3,366.6Z M627.3,400.4 L628.3,402.5 L629.6,404.5 L631.3,406.3 L632.5,408.3 L631.7,406.2 L630.7,404.2 L629.7,402.1 L628.7,400.0Z M608.2,411.7 L607.0,410.2 L605.1,409.1 L603.3,408.0 L604.5,409.5 L605.7,411.0 L606.5,412.8Z M568.6,384.4 L569.3,385.9 L569.8,387.4 L571.1,388.8 L571.2,387.3 L571.7,385.7 L572.1,384.1Z M574.1,384.7 L575.6,383.1 L576.8,381.3 L578.6,380.0 L580.0,378.4 L577.8,379.5 L576.0,380.9 L573.9,382.1 L572.2,383.6Z M602.9,414.0 L603.2,416.5 L602.1,418.7 L603.0,421.3 L603.1,423.9 L603.7,421.5 L603.8,419.1 L605.5,417.1 L605.5,414.7Z M691.9,351.6 L693.2,349.4 L694.0,347.0 L694.6,344.4 L695.3,342.0 L693.3,344.1 L692.3,346.6 L690.4,348.8 L688.5,350.9Z M638.8,386.7 L639.1,389.1 L639.7,391.6 L640.2,394.1 L641.7,396.4 L641.3,393.8 L641.5,391.2 L640.5,388.8 L641.9,386.1Z M670.6,371.4 L669.9,370.1 L668.8,369.0 L667.5,368.2 L668.4,369.3 L669.1,370.8 L669.5,372.4Z M582.6,407.7 L582.9,406.0 L582.9,404.2 L581.9,402.5 L582.1,404.2 L581.3,405.9 L580.8,407.6Z M545.3,381.1 L543.6,379.6 L542.5,377.7 L541.2,375.9 L540.9,373.9 L540.7,371.8 L540.4,374.2 L540.2,376.5 L541.3,378.3 L541.7,380.6 L543.0,382.3Z M670.3,366.0 L671.6,367.7 L672.6,369.6 L673.7,371.4 L674.0,373.5 L675.0,375.4 L675.1,373.2 L674.9,371.2 L674.5,369.1 L674.3,367.0 L673.0,365.4Z M677.6,358.9 L678.0,360.5 L679.0,362.0 L679.4,363.5 L680.3,361.7 L680.2,359.9 L680.4,358.2Z M600.1,420.9 L599.4,423.2 L599.5,425.6 L599.0,428.0 L600.0,425.7 L600.8,423.3 L601.7,421.0Z M582.9,409.7 L583.6,407.4 L584.1,405.3 L583.3,403.1 L582.3,400.9 L582.7,403.1 L582.7,405.3 L582.0,407.5 L581.7,409.7Z M548.0,386.3 L548.4,389.0 L548.0,391.7 L547.7,394.4 L549.2,392.0 L550.9,389.5 L550.3,386.8Z M640.6,388.8 L639.3,387.6 L638.4,386.2 L637.0,385.1 L637.6,386.7 L638.0,388.4 L638.4,390.2Z M573.2,390.4 L572.4,392.2 L571.7,393.8 L571.3,395.7 L572.9,394.2 L574.6,392.8 L575.7,391.1Z M635.1,392.7 L636.4,394.7 L638.0,396.5 L639.8,398.1 L641.9,399.6 L640.4,397.8 L638.9,395.9 L638.5,393.4 L636.5,391.9Z M641.7,389.2 L643.1,387.3 L642.3,384.8 L642.0,382.4 L641.4,380.0 L641.5,382.3 L641.6,384.6 L641.8,386.9 L640.4,388.8Z M619.3,406.7 L620.3,408.3 L621.8,409.4 L623.7,410.2 L622.5,408.8 L621.4,407.5 L620.6,405.8Z M569.3,380.5 L570.3,382.3 L569.9,383.8 L569.9,385.5 L571.1,384.2 L571.5,382.6 L571.9,381.3Z M569.2,381.0 L569.1,378.9 L568.7,377.0 L567.7,375.2 L565.7,374.0 L567.0,375.5 L567.1,377.8 L566.7,380.1 L566.5,382.3Z M540.4,375.6 L541.2,377.9 L540.1,379.8 L541.0,382.0 L540.7,379.9 L542.4,378.1 L542.6,376.0Z M582.4,408.5 L582.1,406.6 L582.2,404.8 L583.0,403.3 L581.4,404.5 L580.6,406.2 L580.5,407.9Z M606.2,416.6 L604.9,415.1 L602.8,414.1 L601.7,412.3 L601.2,410.4 L601.0,412.8 L601.3,415.0 L602.9,416.3 L604.6,417.6Z M570.8,383.8 L569.3,381.7 L567.5,380.0 L567.1,377.7 L564.8,376.2 L566.4,378.0 L565.7,380.8 L567.9,382.3 L567.8,385.2Z M569.0,385.0 L569.4,387.0 L570.9,388.5 L571.1,390.7 L571.2,392.8 L573.2,394.1 L572.3,392.3 L572.6,390.1 L572.0,388.0 L570.6,386.5 L570.9,384.2Z M559.4,386.8 L561.5,387.7 L562.8,389.3 L564.1,391.0 L565.5,392.5 L567.6,393.4 L566.2,392.1 L565.7,389.9 L564.7,388.1 L564.0,386.0 L562.5,384.9Z M841.4,250.9 L842.1,248.8 L841.4,246.7 L842.0,244.5 L841.4,242.3 L840.5,244.6 L840.2,246.7 L840.2,248.9 L839.5,251.0Z M831.4,256.2 L831.9,254.1 L831.8,251.8 L832.2,249.6 L832.3,247.3 L831.4,249.2 L830.1,250.9 L829.3,252.7 L828.2,254.6Z M731.4,295.8 L731.4,298.4 L731.6,301.0 L732.0,303.6 L732.0,306.2 L732.9,303.6 L732.9,301.0 L733.2,298.4 L733.3,295.8Z M803.0,272.9 L802.3,271.5 L802.3,270.1 L801.6,268.6 L801.2,270.3 L800.3,271.9 L801.0,273.3Z M778.9,282.7 L778.4,281.1 L777.5,279.6 L777.8,278.1 L776.8,279.7 L777.4,281.2 L777.8,282.8Z M729.9,302.8 L729.2,300.7 L728.9,298.4 L728.9,296.3 L728.2,298.6 L728.2,300.9 L727.9,303.3Z M738.1,289.0 L738.6,291.1 L740.2,292.7 L741.7,294.4 L740.9,292.4 L740.2,290.5 L739.5,288.5Z M834.7,251.5 L833.3,249.5 L833.5,247.2 L833.6,244.8 L832.7,242.5 L833.0,244.9 L832.8,247.4 L831.9,249.8 L833.3,251.8Z M721.4,313.8 L720.7,311.3 L720.8,308.6 L719.4,306.3 L719.5,303.8 L718.5,306.3 L719.5,308.7 L719.0,311.3 L720.0,313.8Z M721.3,307.8 L720.7,309.4 L719.9,311.0 L719.1,312.5 L720.7,311.2 L722.3,309.9 L724.3,308.8Z M723.1,310.3 L724.4,308.8 L725.1,306.7 L726.3,305.1 L724.5,306.2 L723.5,307.9 L722.2,309.6Z M742.6,283.9 L744.0,285.5 L745.6,287.0 L746.7,288.7 L746.2,286.6 L745.8,284.5 L745.2,282.4Z M716.0,322.2 L717.5,323.8 L719.2,325.2 L721.4,326.2 L720.2,324.6 L718.6,323.2 L718.2,321.0Z M744.9,279.5 L744.3,281.5 L742.8,282.9 L741.5,284.5 L739.9,285.6 L742.1,284.9 L744.2,284.0 L745.8,282.6 L746.3,280.6Z M708.9,336.3 L708.9,334.1 L709.4,332.0 L708.8,329.8 L709.3,327.7 L708.1,329.6 L708.1,331.7 L707.3,333.7 L707.3,335.8Z M794.5,283.7 L794.0,281.6 L793.4,279.7 L791.6,278.4 L791.2,276.4 L790.9,278.7 L792.1,280.4 L791.8,282.8 L792.8,284.7Z M747.4,284.6 L748.7,282.8 L749.4,280.6 L750.2,278.5 L750.6,276.1 L749.7,278.1 L748.6,279.9 L747.7,281.9 L745.6,282.9Z M741.8,281.7 L743.7,283.6 L745.1,285.8 L746.3,288.0 L747.2,290.4 L746.9,287.8 L746.0,285.4 L745.0,283.0 L744.2,280.6Z M739.6,288.4 L738.6,290.2 L738.5,292.5 L737.9,294.4 L736.8,296.1 L738.8,295.0 L739.6,293.1 L740.6,291.4 L742.4,290.1Z M820.5,262.8 L820.8,261.4 L820.6,259.9 L820.1,258.2 L819.6,259.6 L819.8,261.1 L818.7,262.3Z M707.1,331.9 L708.1,334.0 L708.8,336.2 L710.4,338.0 L711.2,340.2 L711.2,337.8 L710.0,335.9 L710.3,333.4 L709.0,331.4Z M781.7,285.2 L780.7,283.4 L780.6,281.3 L780.1,279.3 L779.9,277.3 L779.5,279.5 L779.2,281.7 L778.9,283.8 L780.2,285.5Z M732.7,296.2 L733.3,297.8 L733.7,299.3 L734.7,300.8 L734.1,299.1 L734.5,297.2 L733.7,295.7Z M711.1,327.3 L712.1,325.4 L711.4,323.2 L711.6,321.0 L712.0,318.9 L710.9,320.8 L710.3,323.0 L710.5,325.0 L709.5,327.0Z M730.6,293.8 L729.5,295.7 L728.2,297.7 L727.6,300.1 L729.0,298.1 L730.4,296.2 L733.1,295.0Z M705.2,332.5 L705.6,334.0 L706.8,335.1 L708.3,336.2 L707.5,334.8 L706.5,333.7 L706.5,332.0Z M825.5,258.0 L825.9,260.1 L824.9,261.9 L825.6,263.9 L826.5,265.9 L826.5,264.1 L826.4,262.1 L826.9,260.2 L827.7,258.3Z M819.3,259.7 L819.3,261.8 L820.2,263.5 L821.8,264.8 L823.4,266.2 L822.7,264.3 L821.5,262.7 L821.8,260.4 L821.5,258.5Z M800.7,275.6 L802.4,274.4 L803.5,272.6 L805.2,271.4 L806.5,269.9 L804.3,270.8 L802.6,272.0 L801.2,273.6 L799.5,274.8Z M752.1,275.8 L750.4,277.1 L748.8,278.6 L748.4,281.0 L749.8,279.3 L752.1,278.3 L754.1,277.1Z M835.8,253.1 L837.2,254.3 L837.9,255.7 L838.9,257.0 L839.0,255.3 L838.3,253.9 L838.4,252.2Z M733.1,294.2 L735.4,296.2 L735.3,298.8 L735.6,301.4 L736.0,298.6 L737.2,295.8 L736.3,293.3Z M827.3,253.3 L826.4,255.4 L825.6,257.8 L824.3,259.6 L826.9,258.6 L828.6,256.8 L828.9,254.3Z M762.8,279.5 L762.7,277.3 L762.6,275.3 L762.6,273.1 L762.7,271.0 L761.8,272.9 L761.0,274.8 L760.9,276.9 L760.0,278.7Z M798.4,275.9 L796.7,277.3 L795.4,278.8 L795.6,281.2 L796.1,279.2 L798.3,278.1 L800.0,276.7Z M100.2,651.4 L101.8,654.1 L102.8,656.8 L104.3,659.4 L103.9,656.7 L103.4,654.1 L103.9,651.3Z M88.5,664.6 L88.3,667.2 L87.5,669.6 L87.1,672.4 L88.0,669.8 L89.8,667.7 L89.6,664.9Z M83.2,664.2 L81.9,665.5 L80.9,666.9 L80.8,668.9 L82.0,667.6 L83.9,666.7 L84.7,665.1Z M106.5,648.6 L106.0,651.1 L106.4,653.8 L105.4,656.1 L107.6,654.1 L107.5,651.6 L109.7,649.5Z M93.1,659.2 L92.9,656.7 L93.8,654.4 L92.7,651.9 L93.1,654.3 L91.2,656.4 L91.7,659.0Z M88.1,663.4 L88.8,661.5 L89.0,659.3 L88.8,657.0 L88.1,659.1 L87.5,661.2 L85.6,662.9Z M92.8,661.8 L92.6,659.5 L92.1,657.2 L92.4,654.9 L91.3,657.2 L91.7,659.5 L90.6,661.9Z M93.2,660.2 L93.5,661.9 L94.4,663.4 L95.5,664.9 L95.0,663.3 L94.2,661.8 L94.8,660.0Z M97.7,657.3 L97.7,655.0 L98.5,653.0 L99.2,650.8 L97.9,652.9 L95.8,654.6 L96.0,657.0Z M517.3,191.4 L515.6,193.5 L515.2,196.4 L514.5,199.4 L516.3,197.0 L516.8,194.2 L519.8,192.9Z M478.2,205.8 L479.2,204.5 L480.3,203.5 L481.1,201.9 L479.5,202.2 L478.0,202.6 L476.5,203.2Z M522.0,191.5 L520.3,192.4 L518.7,193.6 L517.0,194.5 L519.3,194.2 L521.4,193.6 L523.5,193.1Z M491.8,201.2 L492.1,199.4 L493.4,198.3 L494.2,196.9 L492.2,197.7 L490.9,198.8 L489.7,200.2Z M483.9,200.5 L486.0,199.5 L487.9,198.1 L488.9,195.9 L487.5,197.7 L485.2,198.7 L482.9,199.4Z M517.1,190.6 L516.1,193.2 L513.8,194.5 L511.8,196.0 L514.3,195.2 L516.9,194.3 L518.5,192.5Z M495.2,201.9 L497.2,201.3 L499.0,200.0 L500.6,198.4 L498.5,198.9 L496.4,199.4 L494.1,199.3Z M278.2,328.0 L280.3,326.3 L281.7,324.0 L283.8,322.5 L281.3,323.6 L279.0,325.0 L276.9,326.7Z M268.3,338.3 L268.8,336.9 L269.6,335.5 L269.0,333.6 L268.4,334.8 L267.3,336.1 L265.1,336.5Z M270.8,314.3 L270.5,311.8 L269.7,309.3 L268.9,306.8 L268.9,309.5 L269.0,312.3 L268.6,315.0Z M264.8,314.2 L266.7,312.2 L268.1,309.9 L269.1,307.3 L267.4,309.3 L264.7,310.3 L263.2,312.6Z M293.9,335.1 L292.2,333.5 L290.8,331.8 L290.0,329.8 L290.3,331.9 L291.1,333.8 L292.0,335.5Z M269.1,330.5 L267.4,328.3 L267.4,325.8 L267.5,323.4 L266.8,326.0 L266.3,328.5 L266.7,331.0Z M290.7,330.4 L289.0,328.2 L287.8,325.8 L286.1,323.7 L285.4,321.1 L285.5,323.8 L287.0,326.0 L287.8,328.4 L288.6,330.9Z M275.8,323.8 L278.4,323.0 L279.2,320.0 L281.4,318.6 L278.6,319.4 L276.9,321.3 L274.5,322.4Z M282.7,316.6 L281.7,314.6 L282.1,312.5 L280.9,310.5 L279.8,308.5 L280.5,310.5 L280.9,312.6 L280.4,314.8 L281.1,316.8Z M278.5,307.3 L277.4,305.1 L277.4,302.9 L276.9,300.5 L276.3,303.0 L275.0,305.5 L276.3,307.6Z M269.1,306.1 L269.6,303.6 L268.8,301.2 L268.2,298.8 L268.3,296.5 L267.5,299.1 L267.4,301.7 L267.5,304.3 L267.4,306.7Z M287.2,341.7 L289.2,340.6 L290.1,338.6 L291.7,337.2 L292.7,335.4 L290.5,336.5 L288.7,337.7 L286.6,339.0 L285.0,340.3Z M267.8,334.6 L266.4,333.0 L265.3,331.3 L265.4,329.3 L263.6,328.0 L264.6,329.6 L264.2,331.6 L264.4,333.6 L265.2,335.4Z M270.8,312.5 L272.5,311.4 L274.3,310.2 L275.4,308.4 L276.9,307.2 L274.6,307.6 L273.1,309.1 L271.5,310.4 L269.4,311.1Z M283.2,317.3 L282.8,314.8 L283.2,312.2 L281.3,309.9 L282.1,312.4 L281.1,315.1 L279.8,318.0Z M271.7,322.1 L272.7,319.8 L273.8,317.2 L273.1,314.3 L272.8,316.8 L271.9,319.4 L269.2,321.0Z M286.0,327.8 L285.2,325.7 L283.8,323.6 L283.3,321.3 L282.0,319.2 L282.6,321.3 L283.2,323.5 L283.8,325.6 L284.6,327.8Z M284.0,332.0 L284.3,329.2 L285.3,326.8 L286.4,324.4 L286.9,321.7 L285.7,323.9 L283.8,325.7 L283.2,328.3 L281.8,330.4Z M294.6,344.5 L295.5,342.5 L295.9,340.2 L296.2,337.9 L297.1,335.9 L295.5,337.7 L294.7,339.9 L294.4,342.2 L292.2,343.7Z M288.9,308.0 L290.4,306.8 L290.8,304.8 L291.8,303.3 L289.9,304.2 L289.2,306.0 L287.7,307.1Z M292.9,325.3 L294.1,324.1 L295.4,323.0 L296.4,321.5 L294.8,322.4 L293.2,323.0 L291.8,324.1Z M274.3,321.0 L276.1,319.5 L277.6,317.4 L278.4,315.0 L279.7,312.8 L277.8,314.5 L276.7,316.7 L274.9,318.5 L272.4,319.5Z M294.5,325.8 L294.4,323.5 L293.7,321.2 L293.2,318.8 L294.1,316.8 L292.4,318.7 L291.7,321.0 L292.4,323.2 L291.7,325.4Z M300.3,321.6 L302.3,320.1 L304.3,318.6 L305.4,316.1 L306.3,313.6 L305.0,315.5 L303.3,317.2 L300.9,318.1 L299.3,320.1Z M317.2,318.2 L318.2,316.5 L318.8,314.6 L318.7,312.5 L318.9,310.4 L318.1,312.3 L317.9,314.2 L317.2,316.2 L316.1,317.9Z M313.5,314.2 L313.5,312.1 L313.5,310.1 L313.0,308.0 L313.1,306.1 L311.6,307.9 L311.7,309.9 L310.8,311.8 L310.2,313.8Z M306.7,333.2 L305.8,330.6 L306.9,328.1 L305.8,325.5 L305.2,322.8 L304.3,325.3 L304.6,327.8 L303.8,330.3 L304.2,332.9Z M309.9,326.9 L309.5,325.1 L308.1,323.4 L307.8,321.5 L307.0,323.6 L307.7,325.3 L306.3,327.4Z M315.9,320.9 L318.2,319.4 L320.2,317.7 L321.8,315.6 L318.9,316.7 L316.1,317.7 L313.8,319.3Z M324.1,333.2 L325.1,331.0 L325.6,328.5 L327.2,326.9 L328.1,324.7 L326.3,326.0 L324.8,327.7 L323.7,329.5 L321.7,330.8Z M304.0,334.6 L305.6,332.9 L306.5,330.6 L307.9,328.7 L305.6,329.7 L303.8,331.1 L302.0,332.7Z M325.9,311.0 L327.2,309.2 L327.8,306.9 L328.4,304.7 L330.1,303.5 L327.8,304.2 L327.1,306.3 L326.1,308.3 L324.9,310.2Z M325.6,325.7 L326.8,323.5 L328.8,323.2 L330.7,323.1 L332.5,321.9 L330.4,322.3 L328.3,321.9 L326.2,322.0 L324.5,322.7Z M314.8,312.5 L317.1,311.5 L319.0,309.5 L321.2,308.2 L318.6,308.7 L316.4,309.8 L313.9,310.5Z M314.8,313.5 L315.2,310.7 L315.9,308.0 L317.6,306.1 L315.3,307.6 L314.3,309.9 L313.4,312.3Z M314.7,322.0 L316.7,320.6 L318.4,318.3 L320.7,316.9 L317.5,317.0 L315.7,319.3 L312.3,318.9Z M453.5,218.3 L454.9,216.0 L456.2,213.8 L458.0,212.3 L460.1,210.8 L457.4,211.7 L454.4,212.1 L453.4,214.7 L450.8,215.8Z M450.2,221.6 L450.7,219.3 L451.9,217.4 L453.1,215.3 L451.0,216.8 L448.9,218.1 L448.6,220.5Z M444.2,218.6 L445.1,216.5 L447.1,215.5 L447.9,213.4 L449.5,211.8 L451.2,210.7 L448.7,211.0 L446.8,212.2 L445.8,214.1 L443.9,215.3 L442.9,217.2Z M468.5,232.8 L470.5,232.1 L472.0,230.9 L473.8,229.8 L474.8,227.7 L476.7,227.3 L477.7,225.2 L476.0,226.2 L473.8,226.0 L472.2,227.1 L470.6,228.3 L468.2,228.3 L466.4,229.1Z M450.9,234.6 L449.6,233.1 L448.1,231.8 L446.6,230.3 L446.1,228.4 L446.2,230.5 L447.1,232.4 L448.8,233.6 L449.2,235.8Z M470.2,219.3 L471.1,217.4 L472.4,215.9 L472.7,213.7 L473.8,211.9 L475.1,210.4 L475.2,208.1 L474.4,210.1 L472.3,211.2 L471.4,213.1 L470.4,215.0 L468.3,216.1 L468.5,218.5Z M441.5,232.2 L443.2,230.3 L444.8,228.5 L446.8,227.1 L448.9,226.0 L450.6,224.1 L448.5,225.3 L446.2,226.1 L444.0,227.1 L442.5,229.1 L440.6,230.5Z M470.0,213.3 L472.3,211.8 L474.7,210.8 L476.5,208.7 L474.3,210.1 L471.3,210.3 L468.8,211.4Z M456.3,228.6 L456.3,226.4 L456.9,224.5 L457.5,222.4 L457.1,220.2 L456.3,218.0 L456.4,220.1 L456.4,222.3 L456.1,224.5 L454.5,226.3 L454.6,228.5Z M488.7,244.8 L488.8,243.8 L488.9,242.8 L489.1,241.8 L488.6,242.8 L487.8,243.6 L487.0,244.4Z M488.3,252.7 L487.9,251.5 L487.8,250.1 L487.5,248.8 L487.1,250.2 L487.2,251.6 L486.6,253.1Z M488.6,248.8 L487.8,247.2 L488.0,245.6 L488.1,244.0 L487.2,245.7 L486.8,247.4 L486.4,249.2Z M485.3,242.6 L486.4,241.4 L487.0,239.8 L488.2,238.7 L486.7,239.7 L485.9,241.1 L484.3,242.1Z M490.4,251.0 L490.9,250.0 L491.4,248.9 L492.0,247.8 L490.8,248.6 L490.0,249.6 L488.4,250.1Z M486.7,251.3 L487.3,250.3 L487.6,249.0 L488.5,248.4 L487.2,248.5 L486.4,249.3 L486.1,250.6Z M491.4,255.3 L490.7,253.7 L490.8,252.2 L490.6,250.5 L490.1,252.0 L489.8,253.6 L490.1,255.1Z M490.0,243.2 L489.8,241.8 L489.6,240.3 L490.0,239.1 L489.0,240.1 L488.5,241.2 L488.4,242.5Z M490.9,254.5 L492.2,253.6 L493.6,252.6 L494.5,251.0 L493.2,252.3 L491.5,253.0 L489.6,253.3Z M490.2,215.1 L490.6,213.1 L492.1,212.2 L493.3,210.7 L491.7,211.8 L489.8,212.5 L489.1,214.1Z M490.4,212.6 L491.0,211.3 L491.7,210.1 L491.9,208.5 L491.3,209.8 L490.1,210.8 L489.6,212.1Z M69.4,572.0 L70.2,572.8 L71.4,572.7 L72.3,573.1 L71.5,572.1 L70.6,571.4 L69.7,570.8Z M67.8,577.7 L68.6,579.5 L70.3,580.7 L72.5,581.5 L71.2,580.0 L70.4,578.1 L69.9,576.0Z M73.8,570.4 L76.2,570.3 L78.7,569.6 L81.1,568.7 L78.5,568.4 L75.9,568.7 L73.3,568.1Z M67.3,569.0 L67.9,570.0 L68.9,571.0 L69.0,572.0 L69.5,570.9 L69.5,569.9 L70.5,568.7Z M79.2,568.2 L80.4,567.3 L81.8,567.0 L83.2,566.5 L81.5,566.4 L79.8,565.6 L78.7,566.9Z M72.7,570.8 L75.3,569.0 L78.2,569.0 L80.9,567.9 L78.0,568.1 L75.2,568.1 L72.3,567.9Z M67.2,578.1 L68.6,579.9 L69.2,581.8 L70.0,583.8 L70.1,581.4 L70.4,579.0 L69.8,576.9Z M66.2,575.3 L66.9,574.1 L67.2,572.6 L67.7,571.3 L66.4,572.2 L65.4,573.2 L64.8,574.5Z M68.9,566.9 L70.6,567.0 L72.3,567.5 L73.5,568.6 L72.9,566.8 L71.3,566.0 L69.7,565.7Z" fill="#ccc" stroke="#000" stroke-width="1" shape-rendering="crispEdges"/>
<path d="M213.8,508.8 L211.2,503.8 L206.2,500.0 L200.0,497.5 L196.2,492.5 L195.0,486.2 L190.0,482.5 L187.5,476.2 L183.8,471.2 L178.8,469.5 L173.8,470.0 L170.0,473.8 L170.5,482.5 L172.0,490.0 L169.5,495.0 L166.2,498.8 L165.5,503.8 L168.8,507.5 L168.0,513.8 L166.2,518.8 L170.0,522.5 L173.8,527.5 L176.2,532.5 L177.5,538.8 L179.5,545.0 L177.5,550.0 L172.5,552.5 L168.8,556.2 L172.5,560.0 L167.5,563.8 L168.8,568.8 L170.0,573.8 L173.8,577.5 L177.5,582.5 L178.8,588.8 L183.8,591.2 L187.5,595.0 L188.8,600.0 L192.5,603.8 L196.2,607.5 L198.8,610.0 L200.0,616.2 L202.0,621.2 L201.2,627.5 L202.5,633.8 L208.8,633.8 M233.8,652.5 L237.5,653.8 L241.2,655.5 L245.0,654.5 L247.5,650.0 L252.5,646.2 L255.0,640.0 L256.2,635.0 L258.8,630.0 L261.2,626.2 L265.5,622.5 L266.2,618.8 L262.5,615.0 L258.8,612.5 L256.2,608.8 L254.5,603.8 L252.5,598.8 L251.2,592.5 L251.2,586.2 L252.5,582.5 L258.8,580.5 L265.5,579.5 L272.5,580.5 L280.0,582.5 L286.2,584.5 L282.5,587.5 L286.2,589.5 L291.2,592.5 L296.2,596.2 L300.0,599.5 L303.8,598.8 L302.5,592.5 L301.2,586.2 L300.0,580.0 L303.8,576.2 L306.2,571.2 L303.8,566.2 L305.0,562.5 L308.8,560.0 L313.8,565.0 L317.5,571.2 L319.5,577.5 L321.2,583.8 M330.0,612.5 L326.2,616.2 L322.5,620.0 L317.5,623.8 L312.5,625.5 L310.0,630.0 L310.0,635.0 L313.8,638.0 L318.8,635.0 L325.0,633.8 L331.2,635.0 L336.2,633.8 L341.2,631.2 L346.2,627.5 L351.2,623.8 L356.2,621.2 L361.2,619.5 L365.0,616.2 L370.0,613.8 L375.0,612.0 L378.0,607.5 L382.5,606.2 L387.5,606.2 L391.2,603.8 L393.8,598.8 L397.5,595.0 L401.2,591.2 L405.0,593.0 L411.2,594.5 L417.5,595.0 L422.5,591.2 L427.5,588.8 L435.0,587.5 L442.5,586.2 L450.0,585.5 L457.5,585.5 L465.0,587.0 L472.5,586.2 L480.0,587.0 L487.5,587.5 L495.0,587.5 L500.0,588.8 L503.8,591.2 L506.2,588.8 L507.5,585.0 L512.5,584.5 M530.0,591.2 L535.0,588.8 L540.0,587.5 L545.0,588.0 L548.8,591.2 L552.5,594.5 L557.5,597.5 L561.2,602.5 L565.0,606.2 L570.0,610.0 L575.0,615.0 L578.8,618.8 L581.2,623.8 L582.0,630.0 L583.0,630.0 L585.5,640.0 L583.0,650.0 L575.5,660.0 L565.5,670.0 L560.5,680.0 L558.0,687.0 M247.5,526.2 L253.8,526.2 L257.5,530.0 L256.2,535.0 L261.2,539.5 L266.2,540.0 L271.2,536.2 L277.5,535.0 L283.8,536.2 L289.5,535.5 L288.8,542.5 L290.0,548.8 L295.0,550.5 L298.0,547.0 L298.5,541.2 L295.5,536.2 L292.0,533.8 L292.0,528.8 L293.0,525.0 L296.2,522.0 L295.0,520.0 L290.0,517.5 L286.2,512.5 L285.0,505.0 L283.8,497.5 L282.5,491.2 L283.8,483.8 L281.2,476.2 L279.5,470.0 L285.0,468.8 L291.2,468.8 L297.5,466.2 L301.2,466.2 L303.8,471.2 L306.2,473.8 L310.0,471.2 L310.0,465.0 L307.5,458.8 L306.2,451.2 L303.8,445.0 L306.2,441.2 L311.2,437.5 L316.2,435.0 M337.2,420.0 L341.0,421.2 L346.0,422.5 L349.8,420.0 L352.2,416.2 L351.5,410.0 L349.8,405.0 L351.0,398.8 L354.8,393.8 L358.5,390.0 L364.8,386.2 L369.8,382.5 L371.0,377.5 L373.5,372.5 L377.2,368.8 L378.5,364.5 L372.2,361.2 L376.0,360.0 L381.0,357.5 L384.8,352.5 L387.2,347.5 L389.8,342.5 L393.5,337.5 L396.0,332.5 L398.5,328.8 L403.5,330.0 L408.5,329.5 L413.5,331.2 L418.0,333.8 L418.5,340.0 L418.0,346.2 L418.5,350.5 L423.5,349.5 L427.2,346.2 L431.0,342.5 L433.5,341.2 L432.2,336.2 L431.0,332.5 L436.0,331.2 L441.0,332.0 L439.8,337.5 L437.2,342.5 L436.5,347.5 L438.0,355.0 L437.2,362.5 L435.5,370.0 L433.5,376.2 L432.2,378.8 M441.0,395.0 L448.5,394.5 L454.8,393.0 L459.8,395.0 L464.8,398.8 L466.0,405.0 L471.0,410.0 L477.2,413.8 L482.2,417.5 L481.5,425.0 L479.8,432.5 L477.2,440.0 L475.0,441.2 L472.5,446.2 L467.5,451.2 L462.5,451.2 L460.0,453.8 L461.2,457.5 L457.5,458.8 L453.8,455.5 L448.8,458.8 L444.5,462.5 L447.5,465.0 L452.5,467.5 L457.5,471.2 L462.5,473.8 L466.2,476.2 L467.5,480.0 L466.2,483.8 L468.8,486.2 L471.2,490.0 L472.5,496.2 L473.8,498.8 L468.8,499.2 L471.2,496.2 L473.8,495.5 L478.8,494.5 L483.8,493.8 L485.0,488.8 L482.5,485.0 L485.0,480.0 L488.8,477.5 L490.0,472.5 L488.8,470.5 L491.2,473.8 L492.0,478.8 L495.0,483.8 L498.8,486.2 L502.5,488.8 L503.0,492.5 L500.0,495.0 L497.5,497.5 L495.5,500.0 M483.8,525.0 L485.0,528.8 L490.0,532.5 L497.5,534.5 L505.0,535.0 L510.0,533.0 L516.2,532.5 L523.8,533.8 L530.0,535.0 L537.5,537.0 L543.8,537.5 L550.0,541.2 L555.0,545.0 L560.0,548.0 L565.0,552.5 L570.0,557.5 L575.0,562.5 L580.0,568.8 L585.0,575.0 L590.0,580.0 L593.8,586.2 L596.2,591.2 L600.0,595.0 L605.0,596.2 L610.0,594.5 L616.2,590.0 L622.5,583.8 L628.8,577.5 L634.0,572.5 L636.5,575.0 L641.5,573.8 L647.8,568.8 L650.2,566.2 L656.5,564.5 L660.2,561.2 L665.2,558.8 L670.2,557.5 L675.2,552.5 L680.2,548.8 L686.5,547.5 L692.8,545.0 L699.0,541.2 L704.0,537.5 M736.5,513.8 L740.2,510.0 L747.8,509.5 L755.2,508.8 L757.0,505.0 L756.5,505.0 L764.0,502.5 L770.2,501.2 L774.0,499.5 L777.8,502.5 L782.8,500.0 L785.2,502.5 L790.2,501.2 L796.5,498.0 L801.5,496.2 L804.0,500.0 L806.5,503.8 L812.8,502.5 L819.0,503.0 L826.5,501.2 L831.5,498.8 L834.0,492.5 L837.8,490.0 L841.5,492.0 L844.0,496.2 L847.8,500.0 L851.5,502.5 L854.5,503.0 M854.5,545.5 L847.8,545.0 L844.0,543.8 L841.5,547.5 L837.8,552.5 L832.8,555.0 L827.8,554.5 L822.8,553.8 L819.0,556.2 L812.8,558.0 L806.5,560.0 L801.5,562.5 L795.2,564.5 L789.0,567.0 L782.8,567.5 L777.8,565.5 L777.0,558.8 L774.0,558.0 L771.5,563.8 L767.8,570.0 L761.5,571.2 L761.0,567.5 L760.2,572.5 L755.2,576.2 L751.5,580.0 L749.0,574.5 L744.0,575.0 L739.0,577.5 L734.0,575.0 L729.0,571.2 L724.0,572.0 L717.8,569.5 L711.5,568.0 L706.5,571.2 L704.0,577.5 L702.8,582.5 L697.8,579.5 L691.5,577.0 L686.5,580.0 L682.8,587.5 L680.2,596.2 L675.2,598.0 L669.0,599.5 L661.5,601.2 L654.0,602.5 L647.8,603.0 L647.0,608.8 L642.8,612.5 L641.5,617.5 L636.5,620.0 L632.8,623.8 M598.0,660.0 L590.5,670.0 L583.0,680.0 L578.0,687.0 M225.0,482.5 L223.8,476.2 L227.5,472.5 L230.0,467.5 L226.2,462.5 L227.5,457.5 L232.5,455.0 L235.0,450.0 L240.0,452.5 L243.8,448.8 L250.0,449.5 L253.8,451.2 L256.2,453.8 L254.5,460.0 L252.5,465.0 L250.0,468.8 M333.1,481.4 L333.1,478.6 L333.8,473.1 L336.6,470.6 L340.0,471.0 L343.4,473.1 L346.2,476.6 L349.0,480.0 L351.0,481.4 L352.4,477.2 L353.1,473.1 L351.7,468.3 L349.7,463.4 L347.6,461.4 L345.5,459.3 L348.3,457.7 L351.7,458.6 L354.5,461.4 L357.9,462.1 L362.1,460.7 L366.2,460.4 L369.0,461.4 L371.0,464.8 L372.4,469.0 L375.9,471.7 L379.3,475.2 L382.1,478.6 L382.8,482.1 L381.4,483.9 L384.1,484.8 L386.2,484.1 L388.3,482.1 L387.6,478.6 L386.2,474.5 L384.1,471.0 L384.8,467.6 L386.9,464.8 L386.2,461.4 L385.5,457.9 L387.6,455.4 L390.3,455.4 L392.4,457.9 L395.2,459.3 L399.3,458.2 L403.4,458.2 L407.6,459.3 L406.2,463.4 L404.1,466.9 L402.1,470.3 L400.0,474.5 L397.2,477.9 L395.2,480.7 L394.5,484.1 L392.4,486.2 L388.3,486.2 L384.1,486.2 L381.4,487.6 L377.2,486.9 L374.5,486.2 L371.7,488.3 L373.1,491.7 L375.2,495.2 L377.2,498.6 L375.2,501.4 L371.7,504.1 L369.0,501.4 L366.9,497.9 L365.5,494.5 M346.2,502.1 L345.5,496.6 L344.1,493.1 L340.7,491.7 L336.6,491.7 L333.1,494.5 L329.0,495.2 L324.8,494.5 L320.7,495.2 L317.9,497.9 L315.9,502.1 L315.2,507.6 L314.5,513.1 L313.8,517.2 L311.0,518.9 L306.9,518.6 L304.8,515.9 L306.2,511.7 L306.6,506.2 L305.5,500.7 L304.1,495.2 L302.1,490.3 L300.0,486.9 M357.5,536.2 L356.2,532.0 L351.2,529.5 L346.2,530.0 L342.5,533.8 L340.0,539.5 L336.2,542.5 L338.8,546.2 L337.0,551.2 L338.8,556.2 L342.5,559.5 L347.5,560.0 L351.2,563.0 L356.2,562.5 M413.5,314.5 L409.8,318.8 L407.2,321.2 L413.5,322.5 L417.2,326.2 L418.5,330.0 L421.0,331.2 L423.5,326.2 L428.5,322.5 L433.5,318.8 L436.0,315.0 L439.8,312.5 M349.0,373.8 L345.5,370.0 L341.5,371.2 L339.0,376.2 L333.5,378.8 L328.5,380.0 L328.0,386.2 L329.8,393.8 L328.5,400.0 L326.5,403.8 L331.0,407.0 M477.5,295.6 L480.0,295.0 L483.8,295.2 L487.5,295.0 L490.6,292.5 L493.8,290.0 L497.5,288.8 L500.0,288.1 L501.9,285.6 L503.8,283.5 L502.5,281.2 L502.2,278.8 L503.8,276.9 L506.2,275.6 L509.4,276.5 L512.5,275.6 L514.4,273.1 L513.1,270.2 L510.0,269.8 L506.9,270.6 L506.0,267.5 L505.2,263.8 L505.6,260.0 L506.9,256.2 L508.1,253.1 L510.6,250.6 L513.8,250.0 L516.9,251.2 L519.4,253.5 L522.5,255.6 L525.0,258.1 L526.0,262.5 L525.6,267.5 L524.4,270.6 L521.9,273.8 L520.6,277.5 L521.0,281.2 L522.2,283.8 L521.9,287.5 L521.2,291.2 L520.0,293.8 L516.9,294.4 L515.0,296.2 L513.8,300.0 L512.5,302.5 L509.4,303.8 L506.2,305.0 L502.5,306.9 L499.4,308.8 L496.9,310.0 L495.6,311.9 M789.0,346.2 L794.0,343.8 L800.2,340.0 L806.5,337.5 L814.0,335.0 L820.2,332.5 L824.0,331.2 L824.5,335.0 L822.8,341.2 L819.0,348.8 L815.2,355.0 L811.5,361.2 L809.5,367.5 M796.5,407.5 L795.2,415.0 L796.5,422.5 L800.2,428.8 L802.8,432.5 L802.8,438.8 L797.8,440.0 L792.8,442.5 L789.0,447.5 L785.2,449.5 L782.8,445.0 L782.0,438.8 L779.0,433.8 L775.2,428.8 L772.8,425.0 L775.2,420.0 L771.5,415.0 L767.8,410.0 L764.0,405.0 L759.0,401.2 L754.0,398.8 L750.2,401.2 L746.5,405.0 L742.8,408.0 L737.8,409.5 L734.0,412.5 L732.8,417.5 L731.5,422.5 L728.5,427.5 L725.2,430.0 L722.0,427.5 L721.5,422.5 L723.5,416.2 L722.8,410.0 L721.5,403.8 L725.2,397.5 L729.0,392.5 L731.5,387.5 L731.0,381.2 L735.2,380.0 L739.0,375.0 L742.8,370.0 L747.8,367.5 L754.0,365.0 L760.2,361.2 L766.5,360.5 M846.0,330.0 L845.2,336.2 L841.5,340.0 M841.5,373.8 L839.0,380.0 L834.0,386.2 L829.0,391.2 L824.0,396.2 L821.5,401.2 L816.5,403.8 L812.8,406.2 L812.0,411.2 L814.0,416.2 L816.5,421.2 L814.0,426.2 L816.5,428.8 L821.5,428.8 L826.5,430.0 L828.5,435.0 L830.2,440.0 L834.0,440.0 L835.2,435.0 L834.5,428.8 L836.5,423.8 L841.5,420.0 L845.2,416.2 L847.8,410.0 L850.2,403.8 L854.5,401.2 M389.7,464.1 L392.1,461.4 L394.9,460.7 L393.5,464.6 L391.7,467.3 L389.9,466.9Z M389.7,476.6 L391.7,473.4 L393.8,476.6Z M331.0,511.7 L332.4,515.2 L335.2,518.6 L338.6,520.0 L341.4,517.9 L345.5,517.2 L349.7,518.6 L355.2,519.3 L360.7,520.0 L364.8,522.8 L369.0,523.5 L373.1,521.4 L375.6,518.6 L373.8,516.5 L369.7,515.9 L366.2,515.6 L362.8,515.9 L359.3,514.5 L355.2,513.8 L353.8,511.0 L345.5,512.4 L341.4,511.0 L337.2,510.6 L333.8,510.6Z M383.4,515.2 L391.0,512.4 L392.4,514.5 L386.2,519.3Z M396.6,511.7 L398.6,510.3 L399.6,513.1 L397.7,514.2Z M395.9,522.8 L400.0,518.6 L402.8,518.6 L398.6,524.1Z M398.6,540.7 L401.4,537.2 L402.8,542.8Z M318.6,511.7 L320.7,511.0 L322.8,516.5 L320.0,519.3 L318.6,515.9Z M315.2,492.4 L317.2,491.0 L318.6,492.7 L316.6,494.1Z M329.0,533.8 L331.0,535.2 L329.2,536.3Z M834.0,470.0 L837.8,467.0 L841.5,468.8 L845.2,473.8 L849.5,478.8 L850.2,482.0 L845.2,483.8 L839.0,482.5 L835.2,480.0 L833.5,475.0Z M782.8,472.5 L786.5,470.8 L790.2,473.0 L786.0,475.0Z M668.8,505.5 L670.2,505.5 L670.5,508.5 L669.0,508.5Z M242.5,482.5 L247.5,482.5 L244.5,490.0Z M256.2,485.5 L260.0,482.5 L262.5,487.5 L258.8,491.2Z M276.2,458.2 L278.8,458.2 L278.8,460.8 L276.2,460.8Z M347.5,567.5 L351.2,567.0 L353.8,570.0 L355.5,576.2 L353.8,582.5 L350.0,584.5 L347.0,581.2 L346.2,573.8Z M376.2,593.8 L380.0,591.2 L382.5,593.8 L378.8,596.2Z M328.5,533.8 L330.5,534.5 L329.5,536.2Z M308.0,554.2 L310.0,554.2 L310.0,556.2 L308.0,556.2Z M341.5,359.5 L344.8,357.5 L347.2,360.5 L344.8,363.8 L341.8,362.5Z M351.5,358.0 L354.8,358.8 L353.0,361.2Z M384.8,318.8 L389.8,318.0 L393.5,320.0 L396.0,322.0 L394.0,323.8 L391.0,321.2Z M462.2,368.0 L465.5,367.0 L466.5,370.5 L464.0,372.5 L462.0,370.5Z M411.5,430.5 L414.8,429.5 L414.0,433.0Z M412.2,435.0 L416.0,436.2 L413.5,439.5Z M507.5,285.0 L510.0,285.0 L510.0,287.5 L507.5,287.5Z M418.0,454.5 L422.5,450.5 L428.8,453.0 L435.0,457.0 L438.8,462.0 L437.5,467.0 L432.5,468.8 L426.2,467.0 L422.5,463.8 L418.8,458.8Z M460.0,512.5 L463.8,507.5 L468.8,508.8 L472.0,513.8 L470.0,518.0 L465.0,519.5 L462.0,516.2Z M500.0,520.5 L502.5,518.5 L505.0,521.0 L502.5,523.5Z M376.2,593.8 L379.5,592.0 L382.5,594.0 L379.0,596.5Z M315.5,643.8 L318.8,642.0 L322.0,646.2 L319.5,650.5 L317.0,647.5Z M507.2,286.2 L508.5,285.2 L510.0,286.2 L508.5,287.5Z" fill="none" stroke="#000" stroke-width="1" shape-rendering="crispEdges"/>
<text class="cl" text-anchor="middle" transform="translate(231.25,517) rotate(28)" y="4.4">600 ft</text>
<text class="cl" text-anchor="middle" transform="translate(238.75,476) rotate(-41)" y="4.4">600 ft</text>
<text class="cl" text-anchor="middle" transform="translate(323.5,435) rotate(-50)" y="4.4">600 ft</text>
<text class="cl" text-anchor="middle" transform="translate(317.5,484.5) rotate(0)" y="4.4">600 ft</text>
<text class="cl" text-anchor="middle" transform="translate(355,503) rotate(-54)" y="4.4">600 ft</text>
<text class="cl" text-anchor="middle" transform="translate(362.5,552.5) rotate(-90)" y="4.4">600 ft</text>
<text class="cl" text-anchor="middle" transform="translate(330,598) rotate(58)" y="4.4">600 ft</text>
<text class="cl" text-anchor="middle" transform="translate(427.75,308.75) rotate(0)" y="4.4">600 ft</text>
<text class="cl" text-anchor="middle" transform="translate(434,393) rotate(64)" y="4.4">600 ft</text>
<text class="cl" text-anchor="middle" transform="translate(341,392) rotate(-59)" y="4.4">600 ft</text>
<text class="cl" text-anchor="middle" transform="translate(484.4,307.75) rotate(41)" y="4.4">600 ft</text>
<text class="cl" text-anchor="middle" transform="translate(484.5,514.5) rotate(-58)" y="4.4">600 ft</text>
<text class="cl" text-anchor="middle" transform="translate(519.25,584.5) rotate(54)" y="4.4">600 ft</text>
<text class="cl" text-anchor="middle" transform="translate(778.25,348.75) rotate(-49)" y="4.4">600 ft</text>
<text class="cl" text-anchor="middle" transform="translate(804,390.5) rotate(-66)" y="4.4">600 ft</text>
<text class="cl" text-anchor="middle" transform="translate(843.5,357) rotate(88)" y="4.4">600 ft</text>
<text class="cl" text-anchor="middle" transform="translate(719.5,525.5) rotate(-36)" y="4.4">600 ft</text>
<text class="cl" text-anchor="middle" transform="translate(615.5,642.5) rotate(-45)" y="4.4">6000 ft</text>
<text class="cl" text-anchor="middle" transform="translate(224.25,637) rotate(29)" y="4.4">600 ft</text>
<path d="M187.5,104.5 L190.5,101.5" stroke="#a01010" stroke-width="1" fill="none"/>
<path d="M740.5,173.5 h6 M747,172.5 h6 M753,172.5 h3" stroke="#f0a040" stroke-width="1" fill="none"/>
<path d="M687.5,613 v9 M685,616.5 h6" stroke="#c03010" stroke-width="1.4" fill="none"/>
<path d="M680,609 h1 M690,609.5 h1 M684,622 h1" stroke="#ffd070" stroke-width="1" fill="none"/>
<path d="M69.5,688 V69 M167.5,688 V69 M265.5,688 V69 M364.5,688 V69 M462.5,688 V69 M560.5,688 V69 M658.5,688 V69 M756.5,688 V69 M60,209.5 H855 M60,347.5 H855 M60,482.5 H855 M60,615.5 H855" fill="none" stroke="#000" stroke-width="1" stroke-dasharray="1 4" shape-rendering="crispEdges"/>
</g>
<path d="M60.5,69.5 H854.5 V687.5 H60.5 Z M69.5,69.5 v-17 M69.5,687.5 v16 M94.5,69.5 v-6.5 M94.5,687.5 v6 M118.5,69.5 v-17 M118.5,687.5 v16 M143.5,69.5 v-6.5 M143.5,687.5 v6 M167.5,69.5 v-17 M167.5,687.5 v16 M192.5,69.5 v-6.5 M192.5,687.5 v6 M216.5,69.5 v-17 M216.5,687.5 v16 M241.5,69.5 v-6.5 M241.5,687.5 v6 M265.5,69.5 v-17 M265.5,687.5 v16 M290.5,69.5 v-6.5 M290.5,687.5 v6 M315.5,69.5 v-17 M315.5,687.5 v16 M339.5,69.5 v-6.5 M339.5,687.5 v6 M364.5,69.5 v-17 M364.5,687.5 v16 M388.5,69.5 v-6.5 M388.5,687.5 v6 M413.5,69.5 v-17 M413.5,687.5 v16 M437.5,69.5 v-6.5 M437.5,687.5 v6 M462.5,69.5 v-17 M462.5,687.5 v16 M486.5,69.5 v-6.5 M486.5,687.5 v6 M511.5,69.5 v-17 M511.5,687.5 v16 M535.5,69.5 v-6.5 M535.5,687.5 v6 M560.5,69.5 v-17 M560.5,687.5 v16 M585.5,69.5 v-6.5 M585.5,687.5 v6 M609.5,69.5 v-17 M609.5,687.5 v16 M634.5,69.5 v-6.5 M634.5,687.5 v6 M658.5,69.5 v-17 M658.5,687.5 v16 M683.5,69.5 v-6.5 M683.5,687.5 v6 M707.5,69.5 v-17 M707.5,687.5 v16 M732.5,69.5 v-6.5 M732.5,687.5 v6 M756.5,69.5 v-17 M756.5,687.5 v16 M781.5,69.5 v-6.5 M781.5,687.5 v6 M806.5,69.5 v-17 M806.5,687.5 v16 M830.5,69.5 v-6.5 M830.5,687.5 v6 M855.5,69.5 v-17 M855.5,687.5 v16 M60.5,69.5 h-13.5 M854.5,69.5 h13.5 M60.5,105.5 h-6 M854.5,105.5 h6 M60.5,140.5 h-13.5 M854.5,140.5 h13.5 M60.5,175.5 h-6 M854.5,175.5 h6 M60.5,209.5 h-13.5 M854.5,209.5 h13.5 M60.5,244.5 h-6 M854.5,244.5 h6 M60.5,278.5 h-13.5 M854.5,278.5 h13.5 M60.5,313.5 h-6 M854.5,313.5 h6 M60.5,347.5 h-13.5 M854.5,347.5 h13.5 M60.5,381.5 h-6 M854.5,381.5 h6 M60.5,415.5 h-13.5 M854.5,415.5 h13.5 M60.5,449.5 h-6 M854.5,449.5 h6 M60.5,482.5 h-13.5 M854.5,482.5 h13.5 M60.5,516.5 h-6 M854.5,516.5 h6 M60.5,549.5 h-13.5 M854.5,549.5 h13.5 M60.5,582.5 h-6 M854.5,582.5 h6 M60.5,615.5 h-13.5 M854.5,615.5 h13.5 M60.5,648.5 h-6 M854.5,648.5 h6 M60.5,681.5 h-13.5 M854.5,681.5 h13.5" fill="none" stroke="#000" stroke-width="1" shape-rendering="crispEdges"/>
<text class="ax2" x="68.5" y="718.8" text-anchor="middle">-71° 0'</text>
<text class="ax2" x="166.7" y="718.8" text-anchor="middle">-70° 0'</text>
<text class="ax2" x="264.9" y="718.8" text-anchor="middle">-69° 0'</text>
<text class="ax2" x="363.1" y="718.8" text-anchor="middle">-68° 0'</text>
<text class="ax2" x="461.3" y="718.8" text-anchor="middle">-67° 0'</text>
<text class="ax2" x="559.5" y="718.8" text-anchor="middle">-66° 0'</text>
<text class="ax2" x="657.7" y="718.8" text-anchor="middle">-65° 0'</text>
<text class="ax2" x="755.9" y="718.8" text-anchor="middle">-64° 0'</text>
<text class="ax2" x="854.1" y="718.8" text-anchor="middle">-63° 0'</text>
<text class="ax2" x="46" y="75.3" text-anchor="end">46° 0'</text>
<text class="ax2" x="46" y="215.3" text-anchor="end">45° 0'</text>
<text class="ax2" x="46" y="352.9" text-anchor="end">44° 0'</text>
<text class="ax2" x="46" y="488.2" text-anchor="end">43° 0'</text>
<text class="ax2" x="46" y="621.3" text-anchor="end">42° 0'</text>
<text class="ttl" x="140.6" y="53.7" textLength="25.0" lengthAdjust="spacingAndGlyphs">RU</text>
<text class="ttl" x="171.6" y="53.7" textLength="55.6" lengthAdjust="spacingAndGlyphs">COOL</text>
<text class="ttl" x="238.4" y="53.7" textLength="81.8" lengthAdjust="spacingAndGlyphs">NOAA-16</text>
<text class="ttl" x="331.5" y="53.7" textLength="31.9" lengthAdjust="spacingAndGlyphs">Sea</text>
<text class="ttl" x="369.3" y="53.7" textLength="67.3" lengthAdjust="spacingAndGlyphs">Surface</text>
<text class="ttl" x="442.5" y="53.7" textLength="117.0" lengthAdjust="spacingAndGlyphs">Temperature:</text>
<text class="ttl" x="569.4" y="53.7" textLength="35.9" lengthAdjust="spacingAndGlyphs">July</text>
<text class="ttl" x="611.4" y="53.7" textLength="21.6" lengthAdjust="spacingAndGlyphs">18,</text>
<text class="ttl" x="639.7" y="53.7" textLength="39.6" lengthAdjust="spacingAndGlyphs">2005</text>
<text class="ttl" x="686.7" y="53.7" textLength="37.5" lengthAdjust="spacingAndGlyphs">1806</text>
<text class="ttl" x="730.6" y="53.7" textLength="40.5" lengthAdjust="spacingAndGlyphs">GMT</text>
<rect x="926.5" y="12.5" width="45" height="733" fill="url(#cb)" stroke="#000" stroke-width="1" shape-rendering="crispEdges"/>
<text class="ax" x="982" y="750.8">3°C</text>
<text class="ax" x="976.5" y="677.5">5°C</text>
<text class="ax" x="976.5" y="604.2">7°C</text>
<text class="ax" x="976.5" y="530.9">9°C</text>
<text class="ax" x="976.5" y="457.6">11°C</text>
<text class="ax" x="976.5" y="384.3">13°C</text>
<text class="ax" x="976.5" y="311.0">15°C</text>
<text class="ax" x="976.5" y="237.7">17°C</text>
<text class="ax" x="976.5" y="164.4">19°C</text>
<text class="ax" x="976.5" y="91.1">21°C</text>
<text class="ax" x="976.5" y="17.8">23°C</text>
<text class="ax" x="913.5" y="750.6" text-anchor="end">37°F</text>
<text class="ax" x="918.5" y="669.2" text-anchor="end">41°F</text>
<text class="ax" x="918.5" y="587.7" text-anchor="end">45°F</text>
<text class="ax" x="918.5" y="506.3" text-anchor="end">49°F</text>
<text class="ax" x="918.5" y="424.8" text-anchor="end">53°F</text>
<text class="ax" x="918.5" y="343.4" text-anchor="end">57°F</text>
<text class="ax" x="918.5" y="262.0" text-anchor="end">61°F</text>
<text class="ax" x="918.5" y="180.5" text-anchor="end">65°F</text>
<text class="ax" x="918.5" y="99.1" text-anchor="end">69°F</text>
<text class="ax" x="918.5" y="16.6" text-anchor="end">73°F</text>
<path d="M970,672.5 h-3 M970,598.5 h-3 M970,525.5 h-3 M970,452.5 h-3 M970,378.5 h-3 M970,305.5 h-3 M970,232.5 h-3 M970,159.5 h-3 M970,85.5 h-3 M925,663.5 h3 M925,582.5 h3 M925,501.5 h3 M925,419.5 h3 M925,338.5 h3 M925,256.5 h3 M925,175.5 h3 M925,93.5 h3" fill="none" stroke="#000" stroke-width="1" shape-rendering="crispEdges"/>
</svg></body></html>
